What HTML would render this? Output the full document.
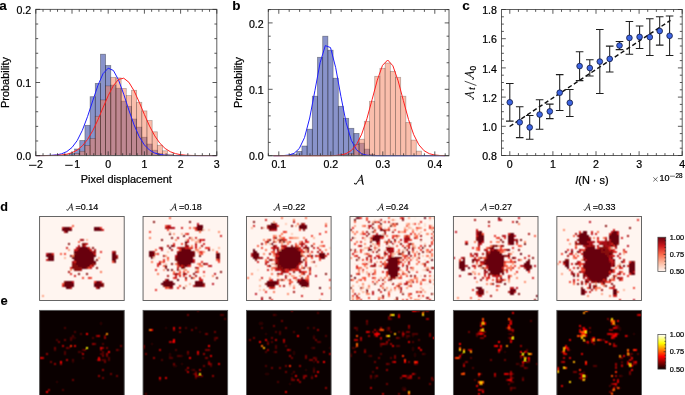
<!DOCTYPE html>
<html><head><meta charset="utf-8"><style>
html,body{margin:0;padding:0;background:#fff;}
svg{display:block;font-family:"Liberation Sans", sans-serif;will-change:transform;}
</style></head><body>
<svg width="685" height="395" viewBox="0 0 685 395">
<rect width="685" height="395" fill="#fff"/>
<g fill="rgba(20,40,150,0.5)" stroke="rgba(0,0,0,0.38)" stroke-width="0.75"><rect x="64.24" y="154.8" width="5.17" height="0.8"/><rect x="69.41" y="153.3" width="5.17" height="2.3"/><rect x="74.59" y="149" width="5.17" height="6.6"/><rect x="79.76" y="140.5" width="5.17" height="15.1"/><rect x="84.93" y="125.3" width="5.17" height="30.3"/><rect x="90.1" y="96.7" width="5.17" height="58.9"/><rect x="95.27" y="83.4" width="5.17" height="72.2"/><rect x="100.44" y="54.2" width="5.17" height="101.4"/><rect x="105.61" y="65.5" width="5.17" height="90.1"/><rect x="110.79" y="85.1" width="5.17" height="70.5"/><rect x="115.96" y="88.2" width="5.17" height="67.4"/><rect x="121.13" y="101.1" width="5.17" height="54.5"/><rect x="126.3" y="106.3" width="5.17" height="49.3"/><rect x="131.47" y="119" width="5.17" height="36.6"/><rect x="136.64" y="127.1" width="5.17" height="28.5"/><rect x="141.81" y="137.2" width="5.17" height="18.4"/><rect x="146.99" y="144" width="5.17" height="11.6"/><rect x="152.16" y="150.2" width="5.17" height="5.4"/><rect x="157.33" y="153.5" width="5.17" height="2.1"/><rect x="162.5" y="155" width="5.17" height="0.6"/></g><g fill="rgba(245,125,90,0.5)" stroke="rgba(0,0,0,0.28)" stroke-width="0.75"><rect x="69.41" y="155" width="5.17" height="0.6"/><rect x="74.59" y="153.6" width="5.17" height="2"/><rect x="79.76" y="151.3" width="5.17" height="4.3"/><rect x="84.93" y="145.5" width="5.17" height="10.1"/><rect x="90.1" y="138.5" width="5.17" height="17.1"/><rect x="95.27" y="116.3" width="5.17" height="39.3"/><rect x="100.44" y="99.9" width="5.17" height="55.7"/><rect x="105.61" y="85.9" width="5.17" height="69.7"/><rect x="110.79" y="77.3" width="5.17" height="78.3"/><rect x="115.96" y="77.9" width="5.17" height="77.7"/><rect x="121.13" y="88.4" width="5.17" height="67.2"/><rect x="126.3" y="95.6" width="5.17" height="60"/><rect x="131.47" y="90.3" width="5.17" height="65.3"/><rect x="136.64" y="102.3" width="5.17" height="53.3"/><rect x="141.81" y="110.9" width="5.17" height="44.7"/><rect x="146.99" y="120.5" width="5.17" height="35.1"/><rect x="152.16" y="131.8" width="5.17" height="23.8"/><rect x="157.33" y="145.2" width="5.17" height="10.4"/><rect x="162.5" y="150.8" width="5.17" height="4.8"/><rect x="167.67" y="154.2" width="5.17" height="1.4"/></g><polyline points="35.8,155.59 40.97,155.57 46.14,155.5 51.31,155.32 56.49,154.86 61.66,153.79 66.83,151.59 72,147.48 77.17,140.61 82.34,130.32 87.51,116.69 92.69,100.96 97.86,85.57 103.03,73.7 108.2,68.18 113.37,70.45 118.54,79.91 123.71,94.19 128.89,110.14 134.06,124.89 139.23,136.66 144.4,144.94 149.57,150.13 154.74,153.04 159.91,154.5 165.09,155.17 170.26,155.45 175.43,155.55 180.6,155.59 185.77,155.6 190.94,155.6 196.11,155.6 201.29,155.6 206.46,155.6 211.63,155.6 216.8,155.6" fill="none" stroke="#1f1fff" stroke-width="1.0"/><polyline points="35.8,155.6 40.97,155.59 46.14,155.56 51.31,155.49 56.49,155.32 61.66,154.95 66.83,154.19 72,152.72 77.17,150.12 82.34,145.89 87.51,139.53 92.69,130.82 97.86,119.94 103.03,107.74 108.2,95.69 113.37,85.65 118.54,79.41 123.71,78.2 128.89,82.26 134.06,90.78 139.23,102.16 144.4,114.51 149.57,126.12 154.74,135.88 159.91,143.29 165.09,148.44 170.26,151.71 175.43,153.63 180.6,154.67 185.77,155.19 190.94,155.43 196.11,155.54 201.29,155.58 206.46,155.59 211.63,155.6 216.8,155.6" fill="none" stroke="#ff1f1f" stroke-width="1.0"/><rect x="35.8" y="9.4" width="181" height="146.2" fill="none" stroke="#5e5e5e" stroke-width="1.0"/><path d="M35.8,155.6v-4.3M35.8,9.4v4.3M43.04,155.6v-2.4M43.04,9.4v2.4M50.28,155.6v-2.4M50.28,9.4v2.4M57.52,155.6v-2.4M57.52,9.4v2.4M64.76,155.6v-2.4M64.76,9.4v2.4M72,155.6v-4.3M72,9.4v4.3M79.24,155.6v-2.4M79.24,9.4v2.4M86.48,155.6v-2.4M86.48,9.4v2.4M93.72,155.6v-2.4M93.72,9.4v2.4M100.96,155.6v-2.4M100.96,9.4v2.4M108.2,155.6v-4.3M108.2,9.4v4.3M115.44,155.6v-2.4M115.44,9.4v2.4M122.68,155.6v-2.4M122.68,9.4v2.4M129.92,155.6v-2.4M129.92,9.4v2.4M137.16,155.6v-2.4M137.16,9.4v2.4M144.4,155.6v-4.3M144.4,9.4v4.3M151.64,155.6v-2.4M151.64,9.4v2.4M158.88,155.6v-2.4M158.88,9.4v2.4M166.12,155.6v-2.4M166.12,9.4v2.4M173.36,155.6v-2.4M173.36,9.4v2.4M180.6,155.6v-4.3M180.6,9.4v4.3M187.84,155.6v-2.4M187.84,9.4v2.4M195.08,155.6v-2.4M195.08,9.4v2.4M202.32,155.6v-2.4M202.32,9.4v2.4M209.56,155.6v-2.4M209.56,9.4v2.4M216.8,155.6v-4.3M216.8,9.4v4.3" stroke="#303030" stroke-width="0.8" fill="none"/><path d="M35.8,155.6h4.3M216.8,155.6h-4.3M35.8,140.98h2.4M216.8,140.98h-2.4M35.8,126.36h2.4M216.8,126.36h-2.4M35.8,111.74h2.4M216.8,111.74h-2.4M35.8,97.12h2.4M216.8,97.12h-2.4M35.8,82.5h4.3M216.8,82.5h-4.3M35.8,67.88h2.4M216.8,67.88h-2.4M35.8,53.26h2.4M216.8,53.26h-2.4M35.8,38.64h2.4M216.8,38.64h-2.4M35.8,24.02h2.4M216.8,24.02h-2.4M35.8,9.4h4.3M216.8,9.4h-4.3" stroke="#303030" stroke-width="0.8" fill="none"/><path d="M29,165.3H36.5" stroke="#000" stroke-width="0.95"/><text x="37" y="168.3" font-size="10.6" text-anchor="start" font-weight="normal" fill="#000" stroke="#000" stroke-width="0.22" >2</text><path d="M65.2,165.3H72.7" stroke="#000" stroke-width="0.95"/><text x="74.25" y="168.3" font-size="10.6" text-anchor="start" font-weight="normal" fill="#000" stroke="#000" stroke-width="0.22" >1</text><text x="108.2" y="168.3" font-size="10.6" text-anchor="middle" font-weight="normal" fill="#000" stroke="#000" stroke-width="0.22" >0</text><text x="144.4" y="168.3" font-size="10.6" text-anchor="middle" font-weight="normal" fill="#000" stroke="#000" stroke-width="0.22" >1</text><text x="180.6" y="168.3" font-size="10.6" text-anchor="middle" font-weight="normal" fill="#000" stroke="#000" stroke-width="0.22" >2</text><text x="216.8" y="168.3" font-size="10.6" text-anchor="middle" font-weight="normal" fill="#000" stroke="#000" stroke-width="0.22" >3</text><text x="31.2" y="160.3" font-size="10.6" text-anchor="end" font-weight="normal" fill="#000" stroke="#000" stroke-width="0.22" >0.0</text><text x="31.2" y="87.2" font-size="10.6" text-anchor="end" font-weight="normal" fill="#000" stroke="#000" stroke-width="0.22" >0.1</text><text x="31.2" y="14.1" font-size="10.6" text-anchor="end" font-weight="normal" fill="#000" stroke="#000" stroke-width="0.22" >0.2</text><text x="126.3" y="183" font-size="10.95" text-anchor="middle" font-weight="normal" fill="#000" stroke="#000" stroke-width="0.22" >Pixel displacement</text><text x="9.3" y="82.5" font-size="10.95" text-anchor="middle" font-weight="normal" fill="#000" stroke="#000" stroke-width="0.22" transform="rotate(-90 9.3 82.5)">Probability</text><text x="-0.8" y="9.8" font-size="13.5" text-anchor="start" font-weight="bold" fill="#000" stroke="#000" stroke-width="0.1" >a</text><g fill="rgba(20,40,150,0.5)" stroke="rgba(0,0,0,0.38)" stroke-width="0.75"><rect x="291.5" y="154.2" width="5.2" height="1.5"/><rect x="296.7" y="151.4" width="5.2" height="4.3"/><rect x="301.9" y="146" width="5.2" height="9.7"/><rect x="307.1" y="129.2" width="5.2" height="26.5"/><rect x="312.3" y="96.2" width="5.2" height="59.5"/><rect x="317.5" y="57.3" width="5.2" height="98.4"/><rect x="322.7" y="36.2" width="5.2" height="119.5"/><rect x="327.9" y="50.2" width="5.2" height="105.5"/><rect x="333.1" y="78.2" width="5.2" height="77.5"/><rect x="338.3" y="106.3" width="5.2" height="49.4"/><rect x="343.5" y="118.3" width="5.2" height="37.4"/><rect x="348.7" y="128.3" width="5.2" height="27.4"/><rect x="353.9" y="133.4" width="5.2" height="22.3"/><rect x="359.1" y="143.2" width="5.2" height="12.5"/><rect x="364.3" y="149.1" width="5.2" height="6.6"/><rect x="369.5" y="154.3" width="5.2" height="1.4"/></g><g fill="rgba(245,125,90,0.5)" stroke="rgba(0,0,0,0.28)" stroke-width="0.75"><rect x="343.5" y="154.6" width="5.2" height="1.1"/><rect x="348.7" y="153.8" width="5.2" height="1.9"/><rect x="353.9" y="144.5" width="5.2" height="11.2"/><rect x="359.1" y="139.2" width="5.2" height="16.5"/><rect x="364.3" y="121.3" width="5.2" height="34.4"/><rect x="369.5" y="101.3" width="5.2" height="54.4"/><rect x="374.7" y="76.3" width="5.2" height="79.4"/><rect x="379.9" y="68.3" width="5.2" height="87.4"/><rect x="385.1" y="63" width="5.2" height="92.7"/><rect x="390.3" y="71.3" width="5.2" height="84.4"/><rect x="395.5" y="77.3" width="5.2" height="78.4"/><rect x="400.7" y="96.2" width="5.2" height="59.5"/><rect x="405.9" y="122.5" width="5.2" height="33.2"/><rect x="411.1" y="140.1" width="5.2" height="15.6"/><rect x="416.3" y="151.1" width="5.2" height="4.6"/></g><polyline points="273.3,155.7 278.5,155.67 283.7,155.55 288.9,155.05 294.1,153.32 299.3,148.49 304.5,137.6 309.7,118.03 314.9,90.71 320.1,62.79 325.3,45.6 330.5,47.57 335.7,67.68 340.9,96.32 346.1,122.5 351.3,140.32 356.5,149.79 361.7,153.82 366.9,155.2 372.1,155.59 377.3,155.68 382.5,155.7 387.7,155.7 392.9,155.7 398.1,155.7 403.3,155.7 408.5,155.7 413.7,155.7 418.9,155.7 424.1,155.7 429.3,155.7 434.5,155.7 439.7,155.7 444.9,155.7" fill="none" stroke="#1f1fff" stroke-width="1.0"/><polyline points="273.3,155.7 278.5,155.7 283.7,155.7 288.9,155.7 294.1,155.7 299.3,155.7 304.5,155.7 309.7,155.7 314.9,155.7 320.1,155.7 325.3,155.68 330.5,155.63 335.7,155.46 340.9,154.95 346.1,153.62 351.3,150.58 356.5,144.55 361.7,134.15 366.9,118.77 372.1,99.59 377.3,80.1 382.5,65.37 387.7,60 392.9,65.79 398.1,80.8 403.3,100.36 408.5,119.45 413.7,134.64 418.9,144.85 424.1,150.74 429.3,153.69 434.5,154.98 439.7,155.47 444.9,155.64" fill="none" stroke="#ff1f1f" stroke-width="1.0"/><rect x="268.3" y="9.5" width="180.7" height="146.2" fill="none" stroke="#5e5e5e" stroke-width="1.0"/><path d="M268.4,155.7v-2.4M268.4,9.5v2.4M278.8,155.7v-4.3M278.8,9.5v4.3M289.2,155.7v-2.4M289.2,9.5v2.4M299.6,155.7v-2.4M299.6,9.5v2.4M310,155.7v-2.4M310,9.5v2.4M320.4,155.7v-2.4M320.4,9.5v2.4M330.8,155.7v-4.3M330.8,9.5v4.3M341.2,155.7v-2.4M341.2,9.5v2.4M351.6,155.7v-2.4M351.6,9.5v2.4M362,155.7v-2.4M362,9.5v2.4M372.4,155.7v-2.4M372.4,9.5v2.4M382.8,155.7v-4.3M382.8,9.5v4.3M393.2,155.7v-2.4M393.2,9.5v2.4M403.6,155.7v-2.4M403.6,9.5v2.4M414,155.7v-2.4M414,9.5v2.4M424.4,155.7v-2.4M424.4,9.5v2.4M434.8,155.7v-4.3M434.8,9.5v4.3M445.2,155.7v-2.4M445.2,9.5v2.4" stroke="#303030" stroke-width="0.8" fill="none"/><path d="M268.3,155.7h4.3M449,155.7h-4.3M268.3,142.42h2.4M449,142.42h-2.4M268.3,129.14h2.4M449,129.14h-2.4M268.3,115.86h2.4M449,115.86h-2.4M268.3,102.58h2.4M449,102.58h-2.4M268.3,89.3h4.3M449,89.3h-4.3M268.3,76.02h2.4M449,76.02h-2.4M268.3,62.74h2.4M449,62.74h-2.4M268.3,49.46h2.4M449,49.46h-2.4M268.3,36.18h2.4M449,36.18h-2.4M268.3,22.9h4.3M449,22.9h-4.3M268.3,9.62h2.4M449,9.62h-2.4" stroke="#303030" stroke-width="0.8" fill="none"/><text x="278.8" y="168.3" font-size="10.6" text-anchor="middle" font-weight="normal" fill="#000" stroke="#000" stroke-width="0.22" >0.1</text><text x="330.8" y="168.3" font-size="10.6" text-anchor="middle" font-weight="normal" fill="#000" stroke="#000" stroke-width="0.22" >0.2</text><text x="382.8" y="168.3" font-size="10.6" text-anchor="middle" font-weight="normal" fill="#000" stroke="#000" stroke-width="0.22" >0.3</text><text x="434.8" y="168.3" font-size="10.6" text-anchor="middle" font-weight="normal" fill="#000" stroke="#000" stroke-width="0.22" >0.4</text><text x="263.7" y="160.4" font-size="10.6" text-anchor="end" font-weight="normal" fill="#000" stroke="#000" stroke-width="0.22" >0.0</text><text x="263.7" y="94" font-size="10.6" text-anchor="end" font-weight="normal" fill="#000" stroke="#000" stroke-width="0.22" >0.1</text><text x="263.7" y="27.6" font-size="10.6" text-anchor="end" font-weight="normal" fill="#000" stroke="#000" stroke-width="0.22" >0.2</text><g transform="translate(354.2,184.6) scale(1.0,1.0)" fill="none" stroke="#111" stroke-linecap="round"><path d="M0.3,-1.2 Q1.1,-0.1 2.3,-1.0" stroke-width="1.1"/><path d="M2.3,-1.0 L7.4,-9.1" stroke-width="0.85"/><path d="M7.4,-9.1 L8.5,-1.2 Q8.7,-0.4 9.1,-0.5" stroke-width="1.35"/><path d="M3.9,-3.4 Q5.6,-4.9 7.9,-4.3" stroke-width="0.7"/></g><text x="241.5" y="82.5" font-size="10.95" text-anchor="middle" font-weight="normal" fill="#000" stroke="#000" stroke-width="0.22" transform="rotate(-90 241.5 82.5)">Probability</text><text x="232.3" y="9.8" font-size="13.5" text-anchor="start" font-weight="bold" fill="#000" stroke="#000" stroke-width="0.1" >b</text><line x1="509.6" y1="126.5" x2="670.5" y2="20.3" stroke="#111" stroke-width="1.45" stroke-dasharray="4.4,2.6"/><path d="M509.8,83.4V121.1M506,83.4h7.6M506,121.1h7.6M519.7,106.8V137.6M515.9,106.8h7.6M515.9,137.6h7.6M529.7,115.4V139.2M525.9,115.4h7.6M525.9,139.2h7.6M539.6,99.8V129.2M535.8,99.8h7.6M535.8,129.2h7.6M549.8,104.1V118.6M546,104.1h7.6M546,118.6h7.6M559.7,74.6V110.5M555.9,74.6h7.6M555.9,110.5h7.6M569.8,89.5V116.5M566,89.5h7.6M566,116.5h7.6M579.6,51.7V80.6M575.8,51.7h7.6M575.8,80.6h7.6M589.8,59.7V76M586,59.7h7.6M586,76h7.6M599.8,29.4V93.5M596,29.4h7.6M596,93.5h7.6M609.7,46.1V72M605.9,46.1h7.6M605.9,72h7.6M619.5,41.5V49.6M615.7,41.5h7.6M615.7,49.6h7.6M629.4,21.5V54.2M625.6,21.5h7.6M625.6,54.2h7.6M639.6,25.9V48.5M635.8,25.9h7.6M635.8,48.5h7.6M649.8,18.7V55.4M646,18.7h7.6M646,55.4h7.6M659.7,16.8V45.1M655.9,16.8h7.6M655.9,45.1h7.6M669.6,15.9V55.4M665.8,15.9h7.6M665.8,55.4h7.6" stroke="#1e1e1e" stroke-width="1.05" fill="none"/><circle cx="509.8" cy="102.3" r="2.85" fill="#3c64e2" stroke="#141a40" stroke-width="0.8"/><circle cx="519.7" cy="122.3" r="2.85" fill="#3c64e2" stroke="#141a40" stroke-width="0.8"/><circle cx="529.7" cy="127.4" r="2.85" fill="#3c64e2" stroke="#141a40" stroke-width="0.8"/><circle cx="539.6" cy="114.5" r="2.85" fill="#3c64e2" stroke="#141a40" stroke-width="0.8"/><circle cx="549.8" cy="111.4" r="2.85" fill="#3c64e2" stroke="#141a40" stroke-width="0.8"/><circle cx="559.7" cy="92.7" r="2.85" fill="#3c64e2" stroke="#141a40" stroke-width="0.8"/><circle cx="569.8" cy="102.8" r="2.85" fill="#3c64e2" stroke="#141a40" stroke-width="0.8"/><circle cx="579.6" cy="66.1" r="2.85" fill="#3c64e2" stroke="#141a40" stroke-width="0.8"/><circle cx="589.8" cy="68" r="2.85" fill="#3c64e2" stroke="#141a40" stroke-width="0.8"/><circle cx="599.8" cy="61.6" r="2.85" fill="#3c64e2" stroke="#141a40" stroke-width="0.8"/><circle cx="609.7" cy="58.9" r="2.85" fill="#3c64e2" stroke="#141a40" stroke-width="0.8"/><circle cx="619.5" cy="45.5" r="2.85" fill="#3c64e2" stroke="#141a40" stroke-width="0.8"/><circle cx="629.4" cy="37.9" r="2.85" fill="#3c64e2" stroke="#141a40" stroke-width="0.8"/><circle cx="639.6" cy="36.9" r="2.85" fill="#3c64e2" stroke="#141a40" stroke-width="0.8"/><circle cx="649.8" cy="37.1" r="2.85" fill="#3c64e2" stroke="#141a40" stroke-width="0.8"/><circle cx="659.7" cy="31" r="2.85" fill="#3c64e2" stroke="#141a40" stroke-width="0.8"/><circle cx="669.6" cy="35.8" r="2.85" fill="#3c64e2" stroke="#141a40" stroke-width="0.8"/><rect x="501.5" y="9.5" width="180.7" height="146" fill="none" stroke="#5e5e5e" stroke-width="1.0"/><path d="M509.8,155.5v-4.3M509.8,9.5v4.3M518.42,155.5v-2.4M518.42,9.5v2.4M527.04,155.5v-2.4M527.04,9.5v2.4M535.66,155.5v-2.4M535.66,9.5v2.4M544.28,155.5v-2.4M544.28,9.5v2.4M552.9,155.5v-4.3M552.9,9.5v4.3M561.52,155.5v-2.4M561.52,9.5v2.4M570.14,155.5v-2.4M570.14,9.5v2.4M578.76,155.5v-2.4M578.76,9.5v2.4M587.38,155.5v-2.4M587.38,9.5v2.4M596,155.5v-4.3M596,9.5v4.3M604.62,155.5v-2.4M604.62,9.5v2.4M613.24,155.5v-2.4M613.24,9.5v2.4M621.86,155.5v-2.4M621.86,9.5v2.4M630.48,155.5v-2.4M630.48,9.5v2.4M639.1,155.5v-4.3M639.1,9.5v4.3M647.72,155.5v-2.4M647.72,9.5v2.4M656.34,155.5v-2.4M656.34,9.5v2.4M664.96,155.5v-2.4M664.96,9.5v2.4M673.58,155.5v-2.4M673.58,9.5v2.4M682.2,155.5v-4.3M682.2,9.5v4.3" stroke="#303030" stroke-width="0.8" fill="none"/><path d="M501.5,155.5h4.3M682.2,155.5h-4.3M501.5,148.2h2.4M682.2,148.2h-2.4M501.5,140.9h2.4M682.2,140.9h-2.4M501.5,133.6h2.4M682.2,133.6h-2.4M501.5,126.3h4.3M682.2,126.3h-4.3M501.5,119h2.4M682.2,119h-2.4M501.5,111.7h2.4M682.2,111.7h-2.4M501.5,104.4h2.4M682.2,104.4h-2.4M501.5,97.1h4.3M682.2,97.1h-4.3M501.5,89.8h2.4M682.2,89.8h-2.4M501.5,82.5h2.4M682.2,82.5h-2.4M501.5,75.2h2.4M682.2,75.2h-2.4M501.5,67.9h4.3M682.2,67.9h-4.3M501.5,60.6h2.4M682.2,60.6h-2.4M501.5,53.3h2.4M682.2,53.3h-2.4M501.5,46h2.4M682.2,46h-2.4M501.5,38.7h4.3M682.2,38.7h-4.3M501.5,31.4h2.4M682.2,31.4h-2.4M501.5,24.1h2.4M682.2,24.1h-2.4M501.5,16.8h2.4M682.2,16.8h-2.4M501.5,9.5h4.3M682.2,9.5h-4.3" stroke="#303030" stroke-width="0.8" fill="none"/><text x="509.8" y="168.3" font-size="10.6" text-anchor="middle" font-weight="normal" fill="#000" stroke="#000" stroke-width="0.22" >0</text><text x="552.9" y="168.3" font-size="10.6" text-anchor="middle" font-weight="normal" fill="#000" stroke="#000" stroke-width="0.22" >1</text><text x="596" y="168.3" font-size="10.6" text-anchor="middle" font-weight="normal" fill="#000" stroke="#000" stroke-width="0.22" >2</text><text x="639.1" y="168.3" font-size="10.6" text-anchor="middle" font-weight="normal" fill="#000" stroke="#000" stroke-width="0.22" >3</text><text x="682.2" y="168.3" font-size="10.6" text-anchor="middle" font-weight="normal" fill="#000" stroke="#000" stroke-width="0.22" >4</text><text x="496.9" y="160.2" font-size="10.6" text-anchor="end" font-weight="normal" fill="#000" stroke="#000" stroke-width="0.22" >0.8</text><text x="496.9" y="131" font-size="10.6" text-anchor="end" font-weight="normal" fill="#000" stroke="#000" stroke-width="0.22" >1.0</text><text x="496.9" y="101.8" font-size="10.6" text-anchor="end" font-weight="normal" fill="#000" stroke="#000" stroke-width="0.22" >1.2</text><text x="496.9" y="72.6" font-size="10.6" text-anchor="end" font-weight="normal" fill="#000" stroke="#000" stroke-width="0.22" >1.4</text><text x="496.9" y="43.4" font-size="10.6" text-anchor="end" font-weight="normal" fill="#000" stroke="#000" stroke-width="0.22" >1.6</text><text x="496.9" y="14.2" font-size="10.6" text-anchor="end" font-weight="normal" fill="#000" stroke="#000" stroke-width="0.22" >1.8</text><text x="591.9" y="183.9" font-size="10.95" text-anchor="middle" font-weight="normal" fill="#000" stroke="#000" stroke-width="0.22" ><tspan font-style="italic">I</tspan>(N · s)</text><path d="M653.3,177.3L657.6,181.4M653.3,181.4L657.6,177.3M670,176.2H675" stroke="#333" stroke-width="0.7" fill="none"/><text x="659.6" y="181.4" font-size="9.0" text-anchor="start" font-weight="normal" fill="#000" stroke="#000" stroke-width="0.22" >10</text><text x="675.4" y="177.7" font-size="6.3" text-anchor="start" font-weight="normal" fill="#000" stroke="#000" stroke-width="0.22" >28</text><text x="462.3" y="9.8" font-size="13.5" text-anchor="start" font-weight="bold" fill="#000" stroke="#000" stroke-width="0.1" >c</text><g transform="translate(474,100) rotate(-90)"><g transform="translate(0.2,0) scale(0.82,0.95)" fill="none" stroke="#111" stroke-linecap="round"><path d="M0.3,-1.2 Q1.1,-0.1 2.3,-1.0" stroke-width="1.1"/><path d="M2.3,-1.0 L7.4,-9.1" stroke-width="0.85"/><path d="M7.4,-9.1 L8.5,-1.2 Q8.7,-0.4 9.1,-0.5" stroke-width="1.35"/><path d="M3.9,-3.4 Q5.6,-4.9 7.9,-4.3" stroke-width="0.7"/></g><text x="10.2" y="1.3" font-size="8.2" text-anchor="start" font-weight="normal" fill="#000" stroke="#000" stroke-width="0.22" font-style="italic">t</text><path d="M14.5,2.4L18.8,-9.3" stroke="#111" stroke-width="0.75"/><g transform="translate(20.3,0) scale(0.86,0.95)" fill="none" stroke="#111" stroke-linecap="round"><path d="M0.3,-1.2 Q1.1,-0.1 2.3,-1.0" stroke-width="1.1"/><path d="M2.3,-1.0 L7.4,-9.1" stroke-width="0.85"/><path d="M7.4,-9.1 L8.5,-1.2 Q8.7,-0.4 9.1,-0.5" stroke-width="1.35"/><path d="M3.9,-3.4 Q5.6,-4.9 7.9,-4.3" stroke-width="0.7"/></g><text x="29.6" y="1.6" font-size="8.4" text-anchor="start" font-weight="normal" fill="#000" stroke="#000" stroke-width="0.22" >0</text></g><defs><filter id="bl" x="-5%" y="-5%" width="110%" height="110%"><feConvolveMatrix order="3" kernelMatrix="1 2 1 2 4 2 1 2 1" divisor="16" edgeMode="duplicate"/></filter><clipPath id="cd0"><rect x="39.60" y="216.5" width="84.6" height="84"/></clipPath><clipPath id="ce0"><rect x="39.60" y="310.4" width="84.6" height="90"/></clipPath><clipPath id="cd1"><rect x="143.05" y="216.5" width="84.6" height="84"/></clipPath><clipPath id="ce1"><rect x="143.05" y="310.4" width="84.6" height="90"/></clipPath><clipPath id="cd2"><rect x="246.50" y="216.5" width="84.6" height="84"/></clipPath><clipPath id="ce2"><rect x="246.50" y="310.4" width="84.6" height="90"/></clipPath><clipPath id="cd3"><rect x="349.95" y="216.5" width="84.6" height="84"/></clipPath><clipPath id="ce3"><rect x="349.95" y="310.4" width="84.6" height="90"/></clipPath><clipPath id="cd4"><rect x="453.40" y="216.5" width="84.6" height="84"/></clipPath><clipPath id="ce4"><rect x="453.40" y="310.4" width="84.6" height="90"/></clipPath><clipPath id="cd5"><rect x="556.85" y="216.5" width="84.6" height="84"/></clipPath><clipPath id="ce5"><rect x="556.85" y="310.4" width="84.6" height="90"/></clipPath></defs><rect x="39.60" y="216.5" width="84.6" height="84" fill="rgb(255,245,240)"/><g clip-path="url(#cd0)"><g filter="url(#bl)" shape-rendering="crispEdges"><path fill="rgb(252,182,155)" d="M85.93 238.66h2.01v2.01h-2.01zM63.77 256.79h2.01v2.01h-2.01z"/><path fill="rgb(252,160,130)" d="M67.80 248.73h2.01v2.01h-2.01zM98.01 256.79h2.01v2.01h-2.01zM41.61 295.06h2.01v2.01h-2.01z"/><path fill="rgb(252,138,106)" d="M69.81 268.87h2.01v2.01h-2.01z"/><path fill="rgb(251,117,85)" d="M71.83 254.77h2.01v2.01h-2.01zM100.03 270.89h2.01v2.01h-2.01z"/><path fill="rgb(248,93,66)" d="M71.83 224.56h2.01v2.01h-2.01zM77.87 240.67h2.01v2.01h-2.01zM59.74 252.76h2.01v2.01h-2.01z"/><path fill="rgb(241,68,50)" d="M63.77 252.76h2.01v2.01h-2.01zM112.11 260.81h2.01v2.01h-2.01zM87.94 266.86h2.01v2.01h-2.01zM81.90 276.93h2.01v2.01h-2.01zM89.96 276.93h2.01v2.01h-2.01zM61.76 282.97h2.01v2.01h-2.01z"/><path fill="rgb(227,47,39)" d="M100.03 226.57h2.01v2.01h-2.01zM100.03 250.74h2.01v2.01h-2.01zM89.96 264.84h2.01v2.01h-2.01zM69.81 272.90h2.01v2.01h-2.01zM87.94 276.93h2.01v2.01h-2.01zM93.99 280.96h2.01v2.01h-2.01z"/><path fill="rgb(208,29,31)" d="M69.81 226.57h2.01v2.01h-2.01zM102.04 228.59h2.01v2.01h-2.01zM85.93 242.69h2.01v2.01h-2.01zM65.79 246.71h2.01v2.01h-2.01zM87.94 246.71h2.01v2.01h-2.01zM73.84 248.73h2.01v2.01h-2.01zM89.96 248.73h2.01v2.01h-2.01zM51.69 252.76h2.01v2.01h-2.01zM93.99 252.76h2.01v2.01h-2.01zM45.64 258.80h2.01v2.01h-2.01zM73.84 260.81h2.01v2.01h-2.01zM69.81 266.86h2.01v2.01h-2.01zM73.84 274.91h2.01v2.01h-2.01zM61.76 284.99h2.01v2.01h-2.01z"/><path fill="rgb(188,20,26)" d="M77.87 244.70h2.01v2.01h-2.01zM83.91 244.70h2.01v2.01h-2.01zM75.86 246.71h2.01v2.01h-2.01zM75.86 248.73h2.01v2.01h-2.01zM112.11 250.74h2.01v2.01h-2.01zM45.64 252.76h2.01v2.01h-2.01zM89.96 266.86h2.01v2.01h-2.01zM71.83 280.96h2.01v2.01h-2.01zM100.03 280.96h2.01v2.01h-2.01z"/><path fill="rgb(168,16,22)" d="M61.76 226.57h2.01v2.01h-2.01zM63.77 230.60h2.01v2.01h-2.01zM79.89 238.66h4.03v2.01h-4.03zM93.99 248.73h2.01v2.01h-2.01zM91.97 250.74h2.01v2.01h-2.01zM116.14 254.77h2.01v2.01h-2.01zM71.83 260.81h2.01v2.01h-2.01zM91.97 264.84h2.01v2.01h-2.01zM79.89 268.87h2.01v2.01h-2.01zM67.80 270.89h2.01v2.01h-2.01zM69.81 287.00h2.01v2.01h-2.01zM96.00 287.00h2.01v2.01h-2.01z"/><path fill="rgb(136,8,17)" d="M67.80 242.69h2.01v2.01h-2.01zM81.90 242.69h4.03v2.01h-4.03zM81.90 244.70h2.01v2.01h-2.01zM77.87 246.71h2.01v2.01h-2.01zM91.97 246.71h2.01v2.01h-2.01zM93.99 250.74h2.01v2.01h-2.01zM114.13 250.74h2.01v2.01h-2.01zM73.84 252.76h2.01v2.01h-2.01zM69.81 254.77h2.01v2.01h-2.01zM116.14 256.79h2.01v2.01h-2.01zM96.00 258.80h2.01v2.01h-2.01zM71.83 262.83h4.03v2.01h-4.03zM91.97 262.83h4.03v2.01h-4.03zM71.83 264.84h6.04v2.01h-6.04zM71.83 266.86h10.07v2.01h-10.07zM85.93 266.86h2.01v2.01h-2.01zM96.00 266.86h2.01v2.01h-2.01zM73.84 268.87h6.04v2.01h-6.04zM77.87 272.90h2.01v2.01h-2.01zM85.93 272.90h2.01v2.01h-2.01zM63.77 280.96h2.01v2.01h-2.01zM102.04 282.97h2.01v2.01h-2.01zM102.04 284.99h2.01v2.01h-2.01z"/><path fill="rgb(103,0,13)" d="M63.77 226.57h6.04v2.01h-6.04zM93.99 226.57h6.04v2.01h-6.04zM61.76 228.59h10.07v2.01h-10.07zM93.99 228.59h8.06v2.01h-8.06zM65.79 230.60h2.01v2.01h-2.01zM79.89 246.71h8.06v2.01h-8.06zM77.87 248.73h12.09v2.01h-12.09zM73.84 250.74h18.13v2.01h-18.13zM47.66 252.76h4.03v2.01h-4.03zM75.86 252.76h18.13v2.01h-18.13zM112.11 252.76h4.03v2.01h-4.03zM45.64 254.77h8.06v2.01h-8.06zM73.84 254.77h22.16v2.01h-22.16zM112.11 254.77h4.03v2.01h-4.03zM47.66 256.79h6.04v2.01h-6.04zM71.83 256.79h22.16v2.01h-22.16zM112.11 256.79h4.03v2.01h-4.03zM47.66 258.80h6.04v2.01h-6.04zM73.84 258.80h20.14v2.01h-20.14zM112.11 258.80h4.03v2.01h-4.03zM75.86 260.81h20.14v2.01h-20.14zM114.13 260.81h2.01v2.01h-2.01zM75.86 262.83h16.11v2.01h-16.11zM77.87 264.84h12.09v2.01h-12.09zM81.90 266.86h4.03v2.01h-4.03zM65.79 280.96h6.04v2.01h-6.04zM96.00 280.96h4.03v2.01h-4.03zM63.77 282.97h10.07v2.01h-10.07zM93.99 282.97h8.06v2.01h-8.06zM63.77 284.99h10.07v2.01h-10.07zM93.99 284.99h8.06v2.01h-8.06zM65.79 287.00h4.03v2.01h-4.03zM98.01 287.00h2.01v2.01h-2.01z"/></g></g><rect x="39.60" y="216.5" width="84.6" height="84" fill="none" stroke="#555" stroke-width="0.9"/><rect x="39.60" y="310.4" width="84.6" height="90" fill="rgb(10,0,0)"/><g clip-path="url(#ce0)"><g filter="url(#bl)" shape-rendering="crispEdges"><path fill="rgb(46,0,0)" d="M100.03 322.49h2.01v2.01h-2.01zM71.83 336.59h4.03v2.01h-4.03zM118.16 348.67h2.01v2.01h-2.01zM79.89 350.69h2.01v2.01h-2.01zM96.00 358.74h2.01v2.01h-2.01zM100.03 358.74h2.01v2.01h-2.01zM71.83 360.76h2.01v2.01h-2.01zM55.71 380.90h2.01v2.01h-2.01z"/><path fill="rgb(81,0,0)" d="M63.77 326.51h2.01v2.01h-2.01zM73.84 330.54h2.01v2.01h-2.01zM79.89 332.56h2.01v2.01h-2.01zM71.83 334.57h2.01v2.01h-2.01zM69.81 336.59h2.01v2.01h-2.01zM91.97 336.59h2.01v2.01h-2.01zM55.71 338.60h2.01v2.01h-2.01zM69.81 338.60h2.01v2.01h-2.01zM102.04 342.63h2.01v2.01h-2.01zM67.80 346.66h2.01v2.01h-2.01zM53.70 348.67h2.01v2.01h-2.01zM81.90 348.67h2.01v2.01h-2.01zM63.77 350.69h2.01v2.01h-2.01zM77.87 350.69h2.01v2.01h-2.01zM102.04 350.69h2.01v2.01h-2.01zM63.77 352.70h2.01v2.01h-2.01zM100.03 352.70h4.03v2.01h-4.03zM81.90 356.73h2.01v2.01h-2.01zM108.09 356.73h2.01v2.01h-2.01zM71.83 358.74h2.01v2.01h-2.01zM102.04 358.74h4.03v2.01h-4.03zM108.09 358.74h2.01v2.01h-2.01zM61.76 388.96h2.01v2.01h-2.01z"/><path fill="rgb(116,0,0)" d="M104.06 334.57h2.01v2.01h-2.01zM63.77 338.60h2.01v2.01h-2.01zM57.73 340.61h2.01v2.01h-2.01zM93.99 342.63h2.01v2.01h-2.01zM120.17 344.64h2.01v2.01h-2.01zM53.70 346.66h2.01v2.01h-2.01zM65.79 346.66h2.01v2.01h-2.01zM106.07 346.66h2.01v2.01h-2.01zM83.91 348.67h2.01v2.01h-2.01zM100.03 348.67h2.01v2.01h-2.01zM116.14 348.67h2.01v2.01h-2.01zM102.04 354.71h2.01v2.01h-2.01zM106.07 354.71h2.01v2.01h-2.01zM49.67 360.76h2.01v2.01h-2.01zM104.06 360.76h2.01v2.01h-2.01zM110.10 372.84h2.01v2.01h-2.01zM116.14 374.86h2.01v2.01h-2.01zM102.04 376.87h2.01v2.01h-2.01zM71.83 378.89h2.01v2.01h-2.01z"/><path fill="rgb(152,0,0)" d="M96.00 334.57h2.01v2.01h-2.01zM104.06 336.59h2.01v2.01h-2.01zM91.97 342.63h2.01v2.01h-2.01zM102.04 346.66h2.01v2.01h-2.01zM45.64 352.70h2.01v2.01h-2.01zM106.07 352.70h2.01v2.01h-2.01zM53.70 362.77h2.01v2.01h-2.01zM59.74 362.77h2.01v2.01h-2.01zM102.04 368.81h2.01v2.01h-2.01zM98.01 374.86h2.01v2.01h-2.01zM47.66 388.96h2.01v2.01h-2.01z"/><path fill="rgb(187,0,0)" d="M98.01 334.57h2.01v2.01h-2.01zM61.76 344.64h2.01v2.01h-2.01zM81.90 352.70h2.01v2.01h-2.01zM41.61 356.73h2.01v2.01h-2.01zM65.79 358.74h2.01v2.01h-2.01z"/><path fill="rgb(222,0,0)" d="M73.84 344.64h2.01v2.01h-2.01zM100.03 346.66h2.01v2.01h-2.01zM39.60 356.73h2.01v2.01h-2.01zM98.01 356.73h2.01v2.01h-2.01zM98.01 358.74h2.01v2.01h-2.01z"/><path fill="rgb(255,2,0)" d="M85.93 332.56h2.01v2.01h-2.01zM108.09 350.69h2.01v2.01h-2.01zM59.74 360.76h2.01v2.01h-2.01zM45.64 390.97h2.01v2.01h-2.01z"/><path fill="rgb(255,38,0)" d="M69.81 344.64h2.01v2.01h-2.01z"/><path fill="rgb(255,143,0)" d="M106.07 332.56h2.01v2.01h-2.01z"/><path fill="rgb(255,249,0)" d="M85.93 346.66h2.01v2.01h-2.01z"/></g></g><rect x="39.60" y="310.4" width="84.6" height="90" fill="none" stroke="#555" stroke-width="0.9"/><rect x="143.05" y="216.5" width="84.6" height="84" fill="rgb(255,245,240)"/><g clip-path="url(#cd1)"><g filter="url(#bl)" shape-rendering="crispEdges"><path fill="rgb(253,202,181)" d="M203.48 228.59h2.01v2.01h-2.01zM207.51 228.59h2.01v2.01h-2.01zM169.24 230.60h2.01v2.01h-2.01zM185.35 238.66h2.01v2.01h-2.01zM193.41 238.66h2.01v2.01h-2.01zM167.22 250.74h2.01v2.01h-2.01zM153.12 256.79h2.01v2.01h-2.01zM165.21 262.83h2.01v2.01h-2.01zM195.42 268.87h2.01v2.01h-2.01z"/><path fill="rgb(252,182,155)" d="M181.32 232.61h2.01v2.01h-2.01zM191.39 236.64h2.01v2.01h-2.01zM197.44 238.66h2.01v2.01h-2.01zM197.44 240.67h2.01v2.01h-2.01zM217.58 246.71h2.01v2.01h-2.01zM211.54 248.73h2.01v2.01h-2.01zM197.44 250.74h2.01v2.01h-2.01zM179.31 268.87h2.01v2.01h-2.01zM183.34 268.87h2.01v2.01h-2.01zM203.48 274.91h2.01v2.01h-2.01zM189.38 282.97h2.01v2.01h-2.01zM185.35 284.99h2.01v2.01h-2.01z"/><path fill="rgb(252,160,130)" d="M173.26 232.61h2.01v2.01h-2.01zM191.39 238.66h2.01v2.01h-2.01zM195.42 240.67h2.01v2.01h-2.01zM203.48 250.74h2.01v2.01h-2.01zM165.21 254.77h2.01v2.01h-2.01zM163.19 268.87h2.01v2.01h-2.01z"/><path fill="rgb(252,138,106)" d="M217.58 230.60h2.01v2.01h-2.01zM175.28 238.66h2.01v2.01h-2.01zM191.39 244.70h2.01v2.01h-2.01zM199.45 246.71h2.01v2.01h-2.01zM195.42 248.73h4.03v2.01h-4.03zM155.14 252.76h2.01v2.01h-2.01zM167.22 258.80h2.01v2.01h-2.01zM161.18 260.81h2.01v2.01h-2.01zM197.44 262.83h2.01v2.01h-2.01zM199.45 264.84h2.01v2.01h-2.01zM185.35 268.87h2.01v2.01h-2.01zM197.44 268.87h2.01v2.01h-2.01zM211.54 274.91h2.01v2.01h-2.01z"/><path fill="rgb(251,117,85)" d="M193.41 226.57h2.01v2.01h-2.01zM199.45 230.60h2.01v2.01h-2.01zM149.09 236.64h2.01v2.01h-2.01zM199.45 252.76h2.01v2.01h-2.01zM151.11 260.81h2.01v2.01h-2.01zM175.28 262.83h2.01v2.01h-2.01zM201.46 264.84h2.01v2.01h-2.01zM173.26 270.89h2.01v2.01h-2.01zM187.36 270.89h2.01v2.01h-2.01zM157.15 272.90h2.01v2.01h-2.01zM193.41 276.93h2.01v2.01h-2.01z"/><path fill="rgb(248,93,66)" d="M169.24 216.50h2.01v2.01h-2.01zM189.38 226.57h2.01v2.01h-2.01zM155.14 248.73h2.01v2.01h-2.01zM215.56 258.80h2.01v2.01h-2.01zM163.19 264.84h2.01v2.01h-2.01zM179.31 272.90h2.01v2.01h-2.01zM167.22 287.00h2.01v2.01h-2.01z"/><path fill="rgb(241,68,50)" d="M165.21 224.56h2.01v2.01h-2.01zM167.22 228.59h2.01v2.01h-2.01zM195.42 228.59h2.01v2.01h-2.01zM149.09 230.60h2.01v2.01h-2.01zM185.35 232.61h2.01v2.01h-2.01zM181.32 242.69h2.01v2.01h-2.01zM189.38 246.71h2.01v2.01h-2.01zM179.31 248.73h2.01v2.01h-2.01zM215.56 250.74h2.01v2.01h-2.01zM201.46 252.76h2.01v2.01h-2.01zM167.22 256.79h2.01v2.01h-2.01zM217.58 260.81h2.01v2.01h-2.01zM199.45 262.83h2.01v2.01h-2.01zM177.29 264.84h2.01v2.01h-2.01zM179.31 270.89h2.01v2.01h-2.01zM183.34 270.89h2.01v2.01h-2.01zM197.44 270.89h2.01v2.01h-2.01zM185.35 278.94h2.01v2.01h-2.01zM179.31 284.99h2.01v2.01h-2.01zM165.21 287.00h2.01v2.01h-2.01z"/><path fill="rgb(227,47,39)" d="M187.36 238.66h2.01v2.01h-2.01zM201.46 238.66h2.01v2.01h-2.01zM173.26 242.69h2.01v2.01h-2.01zM177.29 246.71h2.01v2.01h-2.01zM205.49 246.71h4.03v2.01h-4.03zM199.45 250.74h4.03v2.01h-4.03zM157.15 252.76h2.01v2.01h-2.01zM163.19 258.80h2.01v2.01h-2.01zM163.19 260.81h2.01v2.01h-2.01zM201.46 260.81h2.01v2.01h-2.01zM157.15 262.83h2.01v2.01h-2.01zM189.38 264.84h2.01v2.01h-2.01zM155.14 268.87h2.01v2.01h-2.01zM203.48 270.89h2.01v2.01h-2.01zM173.26 272.90h2.01v2.01h-2.01zM183.34 274.91h2.01v2.01h-2.01zM173.26 276.93h2.01v2.01h-2.01zM177.29 287.00h2.01v2.01h-2.01zM155.14 289.01h2.01v2.01h-2.01z"/><path fill="rgb(208,29,31)" d="M169.24 224.56h2.01v2.01h-2.01zM181.32 226.57h2.01v2.01h-2.01zM187.36 232.61h2.01v2.01h-2.01zM219.59 234.63h2.01v2.01h-2.01zM195.42 236.64h2.01v2.01h-2.01zM199.45 240.67h2.01v2.01h-2.01zM203.48 242.69h2.01v2.01h-2.01zM195.42 244.70h2.01v2.01h-2.01zM185.35 246.71h2.01v2.01h-2.01zM191.39 246.71h2.01v2.01h-2.01zM195.42 246.71h2.01v2.01h-2.01zM217.58 258.80h2.01v2.01h-2.01zM159.16 260.81h2.01v2.01h-2.01zM157.15 264.84h2.01v2.01h-2.01zM181.32 264.84h2.01v2.01h-2.01zM207.51 264.84h2.01v2.01h-2.01zM197.44 266.86h2.01v2.01h-2.01zM177.29 272.90h2.01v2.01h-2.01zM179.31 274.91h2.01v2.01h-2.01zM189.38 274.91h2.01v2.01h-2.01zM175.28 276.93h2.01v2.01h-2.01zM199.45 276.93h2.01v2.01h-2.01zM199.45 278.94h4.03v2.01h-4.03z"/><path fill="rgb(188,20,26)" d="M197.44 222.54h2.01v2.01h-2.01zM173.26 226.57h2.01v2.01h-2.01zM195.42 226.57h2.01v2.01h-2.01zM177.29 236.64h2.01v2.01h-2.01zM189.38 236.64h2.01v2.01h-2.01zM203.48 238.66h2.01v2.01h-2.01zM187.36 240.67h2.01v2.01h-2.01zM195.42 242.69h2.01v2.01h-2.01zM159.16 246.71h2.01v2.01h-2.01zM179.31 246.71h2.01v2.01h-2.01zM187.36 246.71h2.01v2.01h-2.01zM161.18 248.73h2.01v2.01h-2.01zM153.12 254.77h2.01v2.01h-2.01zM175.28 254.77h2.01v2.01h-2.01zM193.41 258.80h2.01v2.01h-2.01zM193.41 260.81h2.01v2.01h-2.01zM205.49 262.83h2.01v2.01h-2.01zM187.36 264.84h2.01v2.01h-2.01zM209.52 264.84h2.01v2.01h-2.01zM177.29 266.86h2.01v2.01h-2.01zM185.35 272.90h2.01v2.01h-2.01zM213.55 272.90h2.01v2.01h-2.01zM175.28 274.91h2.01v2.01h-2.01zM211.54 282.97h2.01v2.01h-2.01z"/><path fill="rgb(168,16,22)" d="M167.22 224.56h2.01v2.01h-2.01zM165.21 226.57h8.06v2.01h-8.06zM199.45 238.66h2.01v2.01h-2.01zM167.22 244.70h2.01v2.01h-2.01zM173.26 244.70h2.01v2.01h-2.01zM187.36 244.70h2.01v2.01h-2.01zM201.46 244.70h2.01v2.01h-2.01zM171.25 248.73h2.01v2.01h-2.01zM153.12 250.74h2.01v2.01h-2.01zM177.29 250.74h2.01v2.01h-2.01zM163.19 254.77h2.01v2.01h-2.01zM159.16 262.83h2.01v2.01h-2.01zM177.29 262.83h2.01v2.01h-2.01zM195.42 266.86h2.01v2.01h-2.01zM195.42 270.89h2.01v2.01h-2.01zM167.22 274.91h2.01v2.01h-2.01zM195.42 274.91h2.01v2.01h-2.01zM165.21 278.94h2.01v2.01h-2.01zM193.41 284.99h2.01v2.01h-2.01zM203.48 284.99h2.01v2.01h-2.01zM169.24 287.00h4.03v2.01h-4.03z"/><path fill="rgb(136,8,17)" d="M153.12 220.53h2.01v2.01h-2.01zM189.38 220.53h2.01v2.01h-2.01zM201.46 228.59h2.01v2.01h-2.01zM169.24 232.61h2.01v2.01h-2.01zM171.25 236.64h2.01v2.01h-2.01zM161.18 238.66h2.01v2.01h-2.01zM185.35 242.69h2.01v2.01h-2.01zM185.35 244.70h2.01v2.01h-2.01zM161.18 246.71h2.01v2.01h-2.01zM181.32 246.71h4.03v2.01h-4.03zM193.41 250.74h2.01v2.01h-2.01zM193.41 254.77h2.01v2.01h-2.01zM175.28 256.79h2.01v2.01h-2.01zM175.28 258.80h2.01v2.01h-2.01zM177.29 260.81h2.01v2.01h-2.01zM171.25 262.83h2.01v2.01h-2.01zM203.48 262.83h2.01v2.01h-2.01zM179.31 264.84h2.01v2.01h-2.01zM183.34 264.84h2.01v2.01h-2.01zM165.21 266.86h2.01v2.01h-2.01zM181.32 266.86h4.03v2.01h-4.03zM171.25 268.87h2.01v2.01h-2.01zM177.29 268.87h2.01v2.01h-2.01zM219.59 270.89h2.01v2.01h-2.01zM175.28 272.90h2.01v2.01h-2.01zM193.41 272.90h2.01v2.01h-2.01zM185.35 276.93h2.01v2.01h-2.01zM215.56 276.93h2.01v2.01h-2.01zM203.48 282.97h2.01v2.01h-2.01zM163.19 284.99h2.01v2.01h-2.01zM183.34 287.00h2.01v2.01h-2.01z"/><path fill="rgb(103,0,13)" d="M197.44 224.56h6.04v2.01h-6.04zM197.44 226.57h6.04v2.01h-6.04zM197.44 228.59h4.03v2.01h-4.03zM183.34 234.63h2.01v2.01h-2.01zM185.35 240.67h2.01v2.01h-2.01zM171.25 244.70h2.01v2.01h-2.01zM169.24 246.71h2.01v2.01h-2.01zM181.32 248.73h10.07v2.01h-10.07zM207.51 248.73h2.01v2.01h-2.01zM149.09 250.74h4.03v2.01h-4.03zM179.31 250.74h14.10v2.01h-14.10zM149.09 252.76h6.04v2.01h-6.04zM177.29 252.76h18.13v2.01h-18.13zM215.56 252.76h4.03v2.01h-4.03zM149.09 254.77h4.03v2.01h-4.03zM177.29 254.77h16.11v2.01h-16.11zM199.45 254.77h2.01v2.01h-2.01zM215.56 254.77h4.03v2.01h-4.03zM151.11 256.79h2.01v2.01h-2.01zM177.29 256.79h16.11v2.01h-16.11zM215.56 256.79h4.03v2.01h-4.03zM177.29 258.80h16.11v2.01h-16.11zM179.31 260.81h14.10v2.01h-14.10zM179.31 262.83h12.09v2.01h-12.09zM165.21 264.84h2.01v2.01h-2.01zM185.35 264.84h2.01v2.01h-2.01zM167.22 268.87h2.01v2.01h-2.01zM183.34 272.90h2.01v2.01h-2.01zM191.39 276.93h2.01v2.01h-2.01zM167.22 278.94h2.01v2.01h-2.01zM177.29 278.94h2.01v2.01h-2.01zM163.19 280.96h10.07v2.01h-10.07zM195.42 280.96h8.06v2.01h-8.06zM161.18 282.97h14.10v2.01h-14.10zM195.42 282.97h8.06v2.01h-8.06zM165.21 284.99h8.06v2.01h-8.06zM195.42 284.99h8.06v2.01h-8.06z"/></g></g><rect x="143.05" y="216.5" width="84.6" height="84" fill="none" stroke="#555" stroke-width="0.9"/><rect x="143.05" y="310.4" width="84.6" height="90" fill="rgb(10,0,0)"/><g clip-path="url(#ce1)"><g filter="url(#bl)" shape-rendering="crispEdges"><path fill="rgb(46,0,0)" d="M165.21 326.51h2.01v2.01h-2.01zM199.45 330.54h2.01v2.01h-2.01zM151.11 342.63h2.01v2.01h-2.01zM169.24 352.70h2.01v2.01h-2.01zM169.24 354.71h2.01v2.01h-2.01zM181.32 354.71h2.01v2.01h-2.01zM181.32 362.77h2.01v2.01h-2.01zM173.26 364.79h4.03v2.01h-4.03zM191.39 368.81h2.01v2.01h-2.01z"/><path fill="rgb(81,0,0)" d="M197.44 310.40h2.01v2.01h-2.01zM219.59 314.43h4.03v2.01h-4.03zM223.62 318.46h2.01v2.01h-2.01zM185.35 326.51h2.01v2.01h-2.01zM195.42 326.51h2.01v2.01h-2.01zM213.55 336.59h2.01v2.01h-2.01zM213.55 338.60h2.01v2.01h-2.01zM143.05 346.66h2.01v2.01h-2.01zM175.28 348.67h2.01v2.01h-2.01zM187.36 352.70h2.01v2.01h-2.01zM177.29 354.71h4.03v2.01h-4.03zM169.24 356.73h4.03v2.01h-4.03zM161.18 358.74h2.01v2.01h-2.01zM209.52 364.79h2.01v2.01h-2.01zM185.35 368.81h2.01v2.01h-2.01zM193.41 368.81h2.01v2.01h-2.01zM195.42 370.83h2.01v2.01h-2.01zM193.41 372.84h2.01v2.01h-2.01zM199.45 374.86h2.01v2.01h-2.01zM195.42 376.87h2.01v2.01h-2.01zM159.16 378.89h2.01v2.01h-2.01zM145.06 392.99h2.01v2.01h-2.01z"/><path fill="rgb(116,0,0)" d="M187.36 314.43h2.01v2.01h-2.01zM191.39 328.53h2.01v2.01h-2.01zM179.31 330.54h2.01v2.01h-2.01zM213.55 330.54h2.01v2.01h-2.01zM205.49 332.56h2.01v2.01h-2.01zM215.56 336.59h2.01v2.01h-2.01zM171.25 340.61h2.01v2.01h-2.01zM143.05 344.64h2.01v2.01h-2.01zM205.49 348.67h4.03v2.01h-4.03zM187.36 350.69h2.01v2.01h-2.01zM145.06 352.70h2.01v2.01h-2.01zM205.49 356.73h2.01v2.01h-2.01zM207.51 360.76h2.01v2.01h-2.01zM173.26 362.77h2.01v2.01h-2.01zM209.52 362.77h2.01v2.01h-2.01zM203.48 364.79h2.01v2.01h-2.01zM197.44 374.86h2.01v2.01h-2.01zM201.46 374.86h2.01v2.01h-2.01z"/><path fill="rgb(152,0,0)" d="M173.26 328.53h2.01v2.01h-2.01zM203.48 352.70h2.01v2.01h-2.01zM153.12 356.73h2.01v2.01h-2.01zM207.51 362.77h2.01v2.01h-2.01zM187.36 366.80h2.01v2.01h-2.01zM195.42 372.84h2.01v2.01h-2.01zM195.42 374.86h2.01v2.01h-2.01zM211.54 374.86h2.01v2.01h-2.01z"/><path fill="rgb(187,0,0)" d="M179.31 326.51h2.01v2.01h-2.01zM169.24 340.61h2.01v2.01h-2.01zM159.16 348.67h2.01v2.01h-2.01zM197.44 352.70h2.01v2.01h-2.01zM199.45 368.81h2.01v2.01h-2.01zM187.36 370.83h2.01v2.01h-2.01z"/><path fill="rgb(222,0,0)" d="M173.26 326.51h2.01v2.01h-2.01zM197.44 350.69h2.01v2.01h-2.01zM209.52 354.71h2.01v2.01h-2.01zM217.58 362.77h2.01v2.01h-2.01zM159.16 376.87h2.01v2.01h-2.01zM165.21 376.87h2.01v2.01h-2.01z"/><path fill="rgb(255,2,0)" d="M151.11 328.53h2.01v2.01h-2.01zM173.26 338.60h2.01v2.01h-2.01zM173.26 340.61h2.01v2.01h-2.01zM207.51 344.64h2.01v2.01h-2.01zM189.38 356.73h2.01v2.01h-2.01z"/><path fill="rgb(255,108,0)" d="M149.09 328.53h2.01v2.01h-2.01z"/><path fill="rgb(255,214,0)" d="M199.45 372.84h2.01v2.01h-2.01z"/></g></g><rect x="143.05" y="310.4" width="84.6" height="90" fill="none" stroke="#555" stroke-width="0.9"/><rect x="246.50" y="216.5" width="84.6" height="84" fill="rgb(255,245,240)"/><g clip-path="url(#cd2)"><g filter="url(#bl)" shape-rendering="crispEdges"><path fill="rgb(254,222,207)" d="M256.57 268.87h2.01v2.01h-2.01z"/><path fill="rgb(253,202,181)" d="M284.77 222.54h2.01v2.01h-2.01zM262.61 226.57h2.01v2.01h-2.01zM290.81 232.61h2.01v2.01h-2.01zM329.09 246.71h2.01v2.01h-2.01zM270.67 262.83h2.01v2.01h-2.01zM314.99 264.84h2.01v2.01h-2.01zM286.79 274.91h2.01v2.01h-2.01zM288.80 284.99h2.01v2.01h-2.01zM302.90 287.00h2.01v2.01h-2.01zM258.59 289.01h2.01v2.01h-2.01z"/><path fill="rgb(252,182,155)" d="M294.84 224.56h2.01v2.01h-2.01zM250.53 226.57h2.01v2.01h-2.01zM278.73 236.64h2.01v2.01h-2.01zM296.86 236.64h2.01v2.01h-2.01zM312.97 236.64h2.01v2.01h-2.01zM284.77 240.67h2.01v2.01h-2.01zM268.66 242.69h2.01v2.01h-2.01zM319.01 244.70h2.01v2.01h-2.01zM304.91 250.74h2.01v2.01h-2.01zM310.96 260.81h2.01v2.01h-2.01zM272.69 262.83h2.01v2.01h-2.01zM274.70 264.84h2.01v2.01h-2.01zM300.89 264.84h2.01v2.01h-2.01zM292.83 274.91h2.01v2.01h-2.01zM258.59 278.94h2.01v2.01h-2.01zM286.79 278.94h2.01v2.01h-2.01zM294.84 278.94h2.01v2.01h-2.01zM258.59 284.99h2.01v2.01h-2.01zM292.83 284.99h2.01v2.01h-2.01z"/><path fill="rgb(252,160,130)" d="M272.69 220.53h2.01v2.01h-2.01zM274.70 234.63h2.01v2.01h-2.01zM292.83 236.64h4.03v2.01h-4.03zM272.69 238.66h2.01v2.01h-2.01zM274.70 240.67h2.01v2.01h-2.01zM280.74 240.67h2.01v2.01h-2.01zM286.79 240.67h2.01v2.01h-2.01zM298.87 240.67h2.01v2.01h-2.01zM280.74 242.69h2.01v2.01h-2.01zM304.91 248.73h2.01v2.01h-2.01zM308.94 252.76h2.01v2.01h-2.01zM272.69 254.77h2.01v2.01h-2.01zM306.93 266.86h2.01v2.01h-2.01zM270.67 268.87h2.01v2.01h-2.01zM276.71 274.91h2.01v2.01h-2.01zM290.81 274.91h2.01v2.01h-2.01zM298.87 274.91h2.01v2.01h-2.01zM268.66 276.93h2.01v2.01h-2.01zM262.61 289.01h2.01v2.01h-2.01zM319.01 299.09h2.01v2.01h-2.01z"/><path fill="rgb(252,138,106)" d="M325.06 222.54h2.01v2.01h-2.01zM262.61 238.66h2.01v2.01h-2.01zM276.71 238.66h2.01v2.01h-2.01zM264.63 242.69h2.01v2.01h-2.01zM278.73 248.73h2.01v2.01h-2.01zM325.06 248.73h2.01v2.01h-2.01zM262.61 252.76h2.01v2.01h-2.01zM300.89 252.76h2.01v2.01h-2.01zM302.90 254.77h2.01v2.01h-2.01zM272.69 258.80h2.01v2.01h-2.01zM304.91 258.80h2.01v2.01h-2.01zM270.67 266.86h2.01v2.01h-2.01zM250.53 272.90h2.01v2.01h-2.01zM304.91 276.93h2.01v2.01h-2.01zM278.73 278.94h2.01v2.01h-2.01zM329.09 287.00h2.01v2.01h-2.01zM286.79 293.04h2.01v2.01h-2.01z"/><path fill="rgb(251,117,85)" d="M280.74 216.50h2.01v2.01h-2.01zM304.91 216.50h2.01v2.01h-2.01zM292.83 218.51h2.01v2.01h-2.01zM296.86 222.54h2.01v2.01h-2.01zM280.74 232.61h2.01v2.01h-2.01zM272.69 234.63h2.01v2.01h-2.01zM280.74 236.64h2.01v2.01h-2.01zM290.81 236.64h2.01v2.01h-2.01zM302.90 236.64h2.01v2.01h-2.01zM286.79 242.69h2.01v2.01h-2.01zM296.86 244.70h2.01v2.01h-2.01zM321.03 244.70h2.01v2.01h-2.01zM264.63 248.73h2.01v2.01h-2.01zM264.63 258.80h2.01v2.01h-2.01zM270.67 272.90h2.01v2.01h-2.01zM246.50 276.93h2.01v2.01h-2.01zM282.76 278.94h2.01v2.01h-2.01zM272.69 291.03h2.01v2.01h-2.01z"/><path fill="rgb(248,93,66)" d="M278.73 234.63h2.01v2.01h-2.01zM288.80 236.64h2.01v2.01h-2.01zM266.64 238.66h2.01v2.01h-2.01zM294.84 242.69h2.01v2.01h-2.01zM312.97 242.69h2.01v2.01h-2.01zM256.57 244.70h2.01v2.01h-2.01zM280.74 246.71h2.01v2.01h-2.01zM270.67 250.74h2.01v2.01h-2.01zM272.69 252.76h2.01v2.01h-2.01zM272.69 266.86h2.01v2.01h-2.01zM300.89 266.86h2.01v2.01h-2.01zM308.94 270.89h2.01v2.01h-2.01zM300.89 272.90h2.01v2.01h-2.01zM306.93 276.93h2.01v2.01h-2.01zM288.80 280.96h4.03v2.01h-4.03zM292.83 287.00h2.01v2.01h-2.01z"/><path fill="rgb(241,68,50)" d="M298.87 228.59h2.01v2.01h-2.01zM284.77 230.60h2.01v2.01h-2.01zM325.06 230.60h2.01v2.01h-2.01zM310.96 234.63h2.01v2.01h-2.01zM282.76 236.64h2.01v2.01h-2.01zM288.80 240.67h2.01v2.01h-2.01zM321.03 240.67h2.01v2.01h-2.01zM260.60 246.71h2.01v2.01h-2.01zM272.69 250.74h2.01v2.01h-2.01zM308.94 254.77h2.01v2.01h-2.01zM317.00 254.77h2.01v2.01h-2.01zM304.91 256.79h2.01v2.01h-2.01zM310.96 256.79h2.01v2.01h-2.01zM319.01 258.80h2.01v2.01h-2.01zM292.83 268.87h2.01v2.01h-2.01zM304.91 270.89h2.01v2.01h-2.01zM306.93 274.91h2.01v2.01h-2.01zM292.83 276.93h2.01v2.01h-2.01zM278.73 284.99h2.01v2.01h-2.01z"/><path fill="rgb(227,47,39)" d="M276.71 224.56h2.01v2.01h-2.01zM325.06 224.56h2.01v2.01h-2.01zM282.76 230.60h2.01v2.01h-2.01zM319.01 232.61h2.01v2.01h-2.01zM272.69 236.64h2.01v2.01h-2.01zM284.77 238.66h2.01v2.01h-2.01zM264.63 240.67h2.01v2.01h-2.01zM306.93 240.67h2.01v2.01h-2.01zM298.87 242.69h2.01v2.01h-2.01zM323.04 244.70h2.01v2.01h-2.01zM270.67 246.71h2.01v2.01h-2.01zM298.87 248.73h4.03v2.01h-4.03zM300.89 250.74h2.01v2.01h-2.01zM310.96 250.74h2.01v2.01h-2.01zM264.63 260.81h2.01v2.01h-2.01zM304.91 260.81h2.01v2.01h-2.01zM266.64 264.84h2.01v2.01h-2.01zM284.77 268.87h2.01v2.01h-2.01zM290.81 268.87h2.01v2.01h-2.01zM286.79 270.89h2.01v2.01h-2.01zM278.73 272.90h2.01v2.01h-2.01zM288.80 272.90h2.01v2.01h-2.01zM294.84 276.93h2.01v2.01h-2.01zM268.66 278.94h2.01v2.01h-2.01zM306.93 278.94h2.01v2.01h-2.01zM329.09 278.94h2.01v2.01h-2.01zM268.66 287.00h2.01v2.01h-2.01zM272.69 287.00h2.01v2.01h-2.01zM264.63 291.03h2.01v2.01h-2.01zM270.67 299.09h2.01v2.01h-2.01z"/><path fill="rgb(208,29,31)" d="M264.63 218.51h2.01v2.01h-2.01zM252.54 224.56h2.01v2.01h-2.01zM282.76 238.66h2.01v2.01h-2.01zM300.89 240.67h2.01v2.01h-2.01zM304.91 240.67h2.01v2.01h-2.01zM302.90 242.69h2.01v2.01h-2.01zM284.77 244.70h2.01v2.01h-2.01zM294.84 244.70h2.01v2.01h-2.01zM298.87 246.71h2.01v2.01h-2.01zM312.97 246.71h2.01v2.01h-2.01zM317.00 246.71h2.01v2.01h-2.01zM319.01 248.73h2.01v2.01h-2.01zM321.03 250.74h2.01v2.01h-2.01zM327.07 252.76h2.01v2.01h-2.01zM274.70 254.77h4.03v2.01h-4.03zM325.06 254.77h2.01v2.01h-2.01zM266.64 256.79h2.01v2.01h-2.01zM274.70 258.80h2.01v2.01h-2.01zM256.57 260.81h2.01v2.01h-2.01zM274.70 260.81h2.01v2.01h-2.01zM298.87 262.83h2.01v2.01h-2.01zM274.70 266.86h2.01v2.01h-2.01zM266.64 268.87h2.01v2.01h-2.01zM274.70 268.87h2.01v2.01h-2.01zM278.73 268.87h2.01v2.01h-2.01zM286.79 268.87h2.01v2.01h-2.01zM294.84 268.87h6.04v2.01h-6.04zM302.90 270.89h2.01v2.01h-2.01zM260.60 276.93h2.01v2.01h-2.01zM288.80 278.94h2.01v2.01h-2.01zM288.80 282.97h2.01v2.01h-2.01zM321.03 293.04h2.01v2.01h-2.01zM300.89 295.06h2.01v2.01h-2.01z"/><path fill="rgb(188,20,26)" d="M292.83 220.53h2.01v2.01h-2.01zM274.70 222.54h2.01v2.01h-2.01zM274.70 228.59h2.01v2.01h-2.01zM304.91 238.66h2.01v2.01h-2.01zM274.70 244.70h2.01v2.01h-2.01zM280.74 244.70h2.01v2.01h-2.01zM274.70 246.71h2.01v2.01h-2.01zM282.76 246.71h2.01v2.01h-2.01zM276.71 250.74h2.01v2.01h-2.01zM302.90 250.74h2.01v2.01h-2.01zM306.93 250.74h2.01v2.01h-2.01zM314.99 254.77h2.01v2.01h-2.01zM319.01 256.79h2.01v2.01h-2.01zM266.64 260.81h2.01v2.01h-2.01zM304.91 262.83h2.01v2.01h-2.01zM296.86 264.84h2.01v2.01h-2.01zM296.86 266.86h2.01v2.01h-2.01zM308.94 268.87h2.01v2.01h-2.01zM280.74 270.89h2.01v2.01h-2.01zM284.77 270.89h2.01v2.01h-2.01zM300.89 270.89h2.01v2.01h-2.01zM308.94 272.90h2.01v2.01h-2.01zM314.99 274.91h2.01v2.01h-2.01zM284.77 276.93h2.01v2.01h-2.01zM270.67 278.94h2.01v2.01h-2.01zM298.87 278.94h2.01v2.01h-2.01zM304.91 278.94h2.01v2.01h-2.01zM254.56 293.04h2.01v2.01h-2.01zM260.60 299.09h2.01v2.01h-2.01z"/><path fill="rgb(168,16,22)" d="M302.90 222.54h2.01v2.01h-2.01zM260.60 226.57h2.01v2.01h-2.01zM266.64 226.57h2.01v2.01h-2.01zM270.67 228.59h4.03v2.01h-4.03zM272.69 240.67h2.01v2.01h-2.01zM278.73 240.67h2.01v2.01h-2.01zM260.60 242.69h2.01v2.01h-2.01zM282.76 244.70h2.01v2.01h-2.01zM300.89 244.70h2.01v2.01h-2.01zM304.91 244.70h2.01v2.01h-2.01zM272.69 246.71h2.01v2.01h-2.01zM276.71 246.71h2.01v2.01h-2.01zM302.90 246.71h2.01v2.01h-2.01zM272.69 248.73h2.01v2.01h-2.01zM317.00 250.74h2.01v2.01h-2.01zM250.53 252.76h2.01v2.01h-2.01zM268.66 252.76h2.01v2.01h-2.01zM274.70 252.76h2.01v2.01h-2.01zM250.53 254.77h2.01v2.01h-2.01zM306.93 254.77h2.01v2.01h-2.01zM258.59 256.79h4.03v2.01h-4.03zM274.70 256.79h2.01v2.01h-2.01zM270.67 258.80h2.01v2.01h-2.01zM312.97 260.81h2.01v2.01h-2.01zM264.63 262.83h2.01v2.01h-2.01zM304.91 264.84h2.01v2.01h-2.01zM308.94 266.86h2.01v2.01h-2.01zM276.71 268.87h2.01v2.01h-2.01zM280.74 272.90h2.01v2.01h-2.01zM284.77 274.91h2.01v2.01h-2.01zM276.71 278.94h2.01v2.01h-2.01zM296.86 278.94h2.01v2.01h-2.01zM276.71 280.96h2.01v2.01h-2.01zM306.93 280.96h2.01v2.01h-2.01zM276.71 282.97h2.01v2.01h-2.01zM282.76 284.99h2.01v2.01h-2.01zM306.93 284.99h2.01v2.01h-2.01zM270.67 287.00h2.01v2.01h-2.01zM292.83 291.03h2.01v2.01h-2.01zM260.60 297.07h2.01v2.01h-2.01z"/><path fill="rgb(136,8,17)" d="M252.54 220.53h2.01v2.01h-2.01zM300.89 222.54h2.01v2.01h-2.01zM266.64 224.56h2.01v2.01h-2.01zM290.81 224.56h2.01v2.01h-2.01zM268.66 228.59h2.01v2.01h-2.01zM302.90 228.59h2.01v2.01h-2.01zM274.70 236.64h2.01v2.01h-2.01zM268.66 238.66h2.01v2.01h-2.01zM278.73 238.66h4.03v2.01h-4.03zM300.89 242.69h2.01v2.01h-2.01zM272.69 244.70h2.01v2.01h-2.01zM290.81 244.70h2.01v2.01h-2.01zM310.96 244.70h2.01v2.01h-2.01zM294.84 246.71h4.03v2.01h-4.03zM304.91 246.71h2.01v2.01h-2.01zM296.86 248.73h2.01v2.01h-2.01zM306.93 248.73h2.01v2.01h-2.01zM276.71 252.76h2.01v2.01h-2.01zM300.89 254.77h2.01v2.01h-2.01zM256.57 256.79h2.01v2.01h-2.01zM254.56 258.80h2.01v2.01h-2.01zM268.66 258.80h2.01v2.01h-2.01zM276.71 258.80h2.01v2.01h-2.01zM276.71 260.81h2.01v2.01h-2.01zM300.89 260.81h2.01v2.01h-2.01zM274.70 262.83h4.03v2.01h-4.03zM276.71 264.84h4.03v2.01h-4.03zM276.71 266.86h6.04v2.01h-6.04zM294.84 266.86h2.01v2.01h-2.01zM302.90 266.86h2.01v2.01h-2.01zM280.74 268.87h4.03v2.01h-4.03zM288.80 268.87h2.01v2.01h-2.01zM282.76 270.89h2.01v2.01h-2.01zM292.83 270.89h2.01v2.01h-2.01zM298.87 270.89h2.01v2.01h-2.01zM276.71 272.90h2.01v2.01h-2.01zM302.90 272.90h2.01v2.01h-2.01zM325.06 272.90h2.01v2.01h-2.01zM300.89 276.93h2.01v2.01h-2.01zM280.74 278.94h2.01v2.01h-2.01zM264.63 282.97h2.01v2.01h-2.01zM268.66 297.07h2.01v2.01h-2.01z"/><path fill="rgb(103,0,13)" d="M270.67 222.54h4.03v2.01h-4.03zM268.66 224.56h8.06v2.01h-8.06zM298.87 224.56h8.06v2.01h-8.06zM268.66 226.57h8.06v2.01h-8.06zM298.87 226.57h8.06v2.01h-8.06zM266.64 240.67h2.01v2.01h-2.01zM282.76 240.67h2.01v2.01h-2.01zM270.67 242.69h2.01v2.01h-2.01zM284.77 246.71h10.07v2.01h-10.07zM306.93 246.71h2.01v2.01h-2.01zM252.54 248.73h2.01v2.01h-2.01zM276.71 248.73h2.01v2.01h-2.01zM280.74 248.73h16.11v2.01h-16.11zM252.54 250.74h4.03v2.01h-4.03zM278.73 250.74h22.16v2.01h-22.16zM252.54 252.76h6.04v2.01h-6.04zM278.73 252.76h22.16v2.01h-22.16zM319.01 252.76h6.04v2.01h-6.04zM252.54 254.77h6.04v2.01h-6.04zM278.73 254.77h22.16v2.01h-22.16zM310.96 254.77h2.01v2.01h-2.01zM319.01 254.77h6.04v2.01h-6.04zM252.54 256.79h4.03v2.01h-4.03zM276.71 256.79h24.17v2.01h-24.17zM321.03 256.79h4.03v2.01h-4.03zM278.73 258.80h22.16v2.01h-22.16zM302.90 258.80h2.01v2.01h-2.01zM278.73 260.81h22.16v2.01h-22.16zM278.73 262.83h20.14v2.01h-20.14zM268.66 264.84h2.01v2.01h-2.01zM280.74 264.84h16.11v2.01h-16.11zM282.76 266.86h12.09v2.01h-12.09zM300.89 278.94h4.03v2.01h-4.03zM266.64 280.96h10.07v2.01h-10.07zM296.86 280.96h10.07v2.01h-10.07zM266.64 282.97h10.07v2.01h-10.07zM298.87 282.97h10.07v2.01h-10.07zM266.64 284.99h8.06v2.01h-8.06zM300.89 284.99h6.04v2.01h-6.04zM319.01 287.00h2.01v2.01h-2.01z"/></g></g><rect x="246.50" y="216.5" width="84.6" height="84" fill="none" stroke="#555" stroke-width="0.9"/><rect x="246.50" y="310.4" width="84.6" height="90" fill="rgb(10,0,0)"/><g clip-path="url(#ce2)"><g filter="url(#bl)" shape-rendering="crispEdges"><path fill="rgb(46,0,0)" d="M274.70 314.43h2.01v2.01h-2.01zM258.59 322.49h4.03v2.01h-4.03zM264.63 332.56h2.01v2.01h-2.01zM312.97 334.57h2.01v2.01h-2.01zM310.96 346.66h2.01v2.01h-2.01zM329.09 346.66h2.01v2.01h-2.01zM272.69 350.69h2.01v2.01h-2.01zM292.83 350.69h2.01v2.01h-2.01zM292.83 352.70h2.01v2.01h-2.01zM312.97 360.76h2.01v2.01h-2.01zM312.97 366.80h2.01v2.01h-2.01zM304.91 368.81h2.01v2.01h-2.01zM264.63 372.84h4.03v2.01h-4.03zM290.81 372.84h2.01v2.01h-2.01zM310.96 374.86h2.01v2.01h-2.01zM288.80 382.91h2.01v2.01h-2.01z"/><path fill="rgb(81,0,0)" d="M317.00 312.41h2.01v2.01h-2.01zM272.69 314.43h2.01v2.01h-2.01zM260.60 326.51h2.01v2.01h-2.01zM306.93 326.51h2.01v2.01h-2.01zM312.97 326.51h2.01v2.01h-2.01zM274.70 330.54h2.01v2.01h-2.01zM278.73 330.54h2.01v2.01h-2.01zM292.83 330.54h2.01v2.01h-2.01zM278.73 332.56h2.01v2.01h-2.01zM325.06 334.57h2.01v2.01h-2.01zM312.97 336.59h2.01v2.01h-2.01zM266.64 340.61h2.01v2.01h-2.01zM270.67 340.61h2.01v2.01h-2.01zM317.00 340.61h4.03v2.01h-4.03zM274.70 344.64h2.01v2.01h-2.01zM284.77 344.64h2.01v2.01h-2.01zM274.70 346.66h2.01v2.01h-2.01zM312.97 346.66h2.01v2.01h-2.01zM264.63 350.69h2.01v2.01h-2.01zM314.99 356.73h2.01v2.01h-2.01zM264.63 364.79h2.01v2.01h-2.01zM312.97 368.81h2.01v2.01h-2.01zM292.83 370.83h2.01v2.01h-2.01zM312.97 370.83h2.01v2.01h-2.01zM290.81 376.87h2.01v2.01h-2.01zM276.71 380.90h2.01v2.01h-2.01z"/><path fill="rgb(116,0,0)" d="M290.81 310.40h2.01v2.01h-2.01zM280.74 320.47h2.01v2.01h-2.01zM272.69 324.50h2.01v2.01h-2.01zM284.77 326.51h2.01v2.01h-2.01zM252.54 336.59h2.01v2.01h-2.01zM270.67 336.59h2.01v2.01h-2.01zM248.51 338.60h2.01v2.01h-2.01zM314.99 338.60h2.01v2.01h-2.01zM266.64 342.63h2.01v2.01h-2.01zM288.80 348.67h2.01v2.01h-2.01zM274.70 350.69h2.01v2.01h-2.01zM304.91 354.71h2.01v2.01h-2.01zM290.81 356.73h2.01v2.01h-2.01zM304.91 356.73h2.01v2.01h-2.01zM312.97 356.73h2.01v2.01h-2.01zM308.94 358.74h4.03v2.01h-4.03zM314.99 358.74h2.01v2.01h-2.01zM284.77 364.79h2.01v2.01h-2.01zM270.67 366.80h2.01v2.01h-2.01zM278.73 366.80h2.01v2.01h-2.01zM284.77 370.83h2.01v2.01h-2.01zM302.90 374.86h2.01v2.01h-2.01zM310.96 376.87h2.01v2.01h-2.01zM290.81 378.89h4.03v2.01h-4.03z"/><path fill="rgb(152,0,0)" d="M317.00 328.53h2.01v2.01h-2.01zM282.76 340.61h2.01v2.01h-2.01zM266.64 348.67h2.01v2.01h-2.01zM323.04 350.69h2.01v2.01h-2.01zM288.80 354.71h2.01v2.01h-2.01zM317.00 360.76h2.01v2.01h-2.01zM298.87 364.79h2.01v2.01h-2.01zM304.91 374.86h2.01v2.01h-2.01zM302.90 376.87h2.01v2.01h-2.01zM298.87 380.90h2.01v2.01h-2.01zM325.06 386.94h2.01v2.01h-2.01z"/><path fill="rgb(187,0,0)" d="M274.70 338.60h2.01v2.01h-2.01zM282.76 338.60h2.01v2.01h-2.01zM286.79 348.67h2.01v2.01h-2.01zM329.09 352.70h2.01v2.01h-2.01zM296.86 378.89h2.01v2.01h-2.01z"/><path fill="rgb(222,0,0)" d="M264.63 338.60h2.01v2.01h-2.01zM317.00 370.83h2.01v2.01h-2.01zM294.84 374.86h2.01v2.01h-2.01zM314.99 374.86h2.01v2.01h-2.01zM284.77 390.97h2.01v2.01h-2.01z"/><path fill="rgb(255,2,0)" d="M296.86 334.57h2.01v2.01h-2.01zM258.59 340.61h2.01v2.01h-2.01zM323.04 360.76h2.01v2.01h-2.01z"/><path fill="rgb(255,38,0)" d="M288.80 364.79h2.01v2.01h-2.01z"/><path fill="rgb(255,108,0)" d="M260.60 344.64h2.01v2.01h-2.01z"/><path fill="rgb(255,178,0)" d="M262.61 346.66h2.01v2.01h-2.01z"/></g></g><rect x="246.50" y="310.4" width="84.6" height="90" fill="none" stroke="#555" stroke-width="0.9"/><rect x="349.95" y="216.5" width="84.6" height="84" fill="rgb(255,245,240)"/><g clip-path="url(#cd3)"><g filter="url(#bl)" shape-rendering="crispEdges"><path fill="rgb(254,234,224)" d="M349.95 216.50h2.01v2.01h-2.01zM414.41 216.50h2.01v2.01h-2.01zM418.44 224.56h2.01v2.01h-2.01zM432.54 232.61h2.01v2.01h-2.01zM394.26 242.69h2.01v2.01h-2.01zM382.18 244.70h2.01v2.01h-2.01zM392.25 244.70h2.01v2.01h-2.01zM351.96 248.73h2.01v2.01h-2.01zM370.09 250.74h2.01v2.01h-2.01zM412.39 258.80h2.01v2.01h-2.01zM353.98 262.83h2.01v2.01h-2.01zM358.01 262.83h2.01v2.01h-2.01zM368.08 262.83h2.01v2.01h-2.01zM404.34 266.86h2.01v2.01h-2.01zM360.02 268.87h2.01v2.01h-2.01zM416.42 268.87h2.01v2.01h-2.01zM378.15 276.93h2.01v2.01h-2.01zM430.52 276.93h2.01v2.01h-2.01zM368.08 282.97h2.01v2.01h-2.01zM424.48 282.97h4.03v2.01h-4.03zM428.51 287.00h4.03v2.01h-4.03z"/><path fill="rgb(254,222,207)" d="M374.12 218.51h2.01v2.01h-2.01zM378.15 218.51h2.01v2.01h-2.01zM390.24 218.51h2.01v2.01h-2.01zM394.26 218.51h2.01v2.01h-2.01zM428.51 218.51h2.01v2.01h-2.01zM424.48 222.54h2.01v2.01h-2.01zM424.48 224.56h2.01v2.01h-2.01zM366.06 226.57h2.01v2.01h-2.01zM374.12 226.57h2.01v2.01h-2.01zM384.19 226.57h2.01v2.01h-2.01zM392.25 228.59h2.01v2.01h-2.01zM370.09 230.60h2.01v2.01h-2.01zM370.09 234.63h2.01v2.01h-2.01zM368.08 236.64h2.01v2.01h-2.01zM432.54 236.64h2.01v2.01h-2.01zM384.19 238.66h2.01v2.01h-2.01zM420.45 240.67h2.01v2.01h-2.01zM374.12 242.69h2.01v2.01h-2.01zM424.48 246.71h2.01v2.01h-2.01zM384.19 248.73h2.01v2.01h-2.01zM404.34 248.73h2.01v2.01h-2.01zM404.34 250.74h2.01v2.01h-2.01zM384.19 256.79h2.01v2.01h-2.01zM424.48 258.80h2.01v2.01h-2.01zM364.05 260.81h2.01v2.01h-2.01zM420.45 262.83h2.01v2.01h-2.01zM366.06 264.84h2.01v2.01h-2.01zM372.11 268.87h2.01v2.01h-2.01zM410.38 268.87h2.01v2.01h-2.01zM422.46 268.87h2.01v2.01h-2.01zM370.09 270.89h2.01v2.01h-2.01zM420.45 274.91h2.01v2.01h-2.01zM432.54 274.91h2.01v2.01h-2.01zM390.24 280.96h2.01v2.01h-2.01zM400.31 280.96h2.01v2.01h-2.01zM372.11 282.97h2.01v2.01h-2.01zM376.14 282.97h2.01v2.01h-2.01zM358.01 284.99h2.01v2.01h-2.01zM366.06 287.00h2.01v2.01h-2.01zM390.24 287.00h2.01v2.01h-2.01zM386.21 289.01h2.01v2.01h-2.01zM398.29 289.01h2.01v2.01h-2.01zM364.05 291.03h2.01v2.01h-2.01zM390.24 291.03h2.01v2.01h-2.01zM402.32 291.03h2.01v2.01h-2.01zM349.95 297.07h2.01v2.01h-2.01zM420.45 297.07h2.01v2.01h-2.01z"/><path fill="rgb(253,202,181)" d="M382.18 220.53h2.01v2.01h-2.01zM412.39 222.54h2.01v2.01h-2.01zM408.36 224.56h2.01v2.01h-2.01zM430.52 224.56h2.01v2.01h-2.01zM410.38 226.57h2.01v2.01h-2.01zM420.45 230.60h2.01v2.01h-2.01zM382.18 232.61h2.01v2.01h-2.01zM353.98 236.64h2.01v2.01h-2.01zM364.05 236.64h2.01v2.01h-2.01zM364.05 238.66h2.01v2.01h-2.01zM424.48 242.69h2.01v2.01h-2.01zM414.41 244.70h2.01v2.01h-2.01zM402.32 248.73h2.01v2.01h-2.01zM394.26 252.76h2.01v2.01h-2.01zM422.46 254.77h2.01v2.01h-2.01zM416.42 256.79h2.01v2.01h-2.01zM358.01 258.80h2.01v2.01h-2.01zM400.31 258.80h2.01v2.01h-2.01zM368.08 260.81h2.01v2.01h-2.01zM378.15 264.84h2.01v2.01h-2.01zM424.48 268.87h2.01v2.01h-2.01zM366.06 272.90h2.01v2.01h-2.01zM406.35 272.90h2.01v2.01h-2.01zM374.12 278.94h2.01v2.01h-2.01zM408.36 278.94h2.01v2.01h-2.01zM362.04 284.99h2.01v2.01h-2.01zM382.18 284.99h2.01v2.01h-2.01zM360.02 289.01h2.01v2.01h-2.01zM432.54 293.04h2.01v2.01h-2.01zM358.01 299.09h2.01v2.01h-2.01z"/><path fill="rgb(252,182,155)" d="M432.54 216.50h2.01v2.01h-2.01zM372.11 220.53h2.01v2.01h-2.01zM390.24 222.54h2.01v2.01h-2.01zM406.35 222.54h2.01v2.01h-2.01zM404.34 226.57h2.01v2.01h-2.01zM408.36 226.57h2.01v2.01h-2.01zM406.35 228.59h2.01v2.01h-2.01zM416.42 228.59h2.01v2.01h-2.01zM430.52 228.59h2.01v2.01h-2.01zM400.31 230.60h2.01v2.01h-2.01zM360.02 232.61h2.01v2.01h-2.01zM372.11 242.69h2.01v2.01h-2.01zM374.12 244.70h2.01v2.01h-2.01zM388.22 244.70h2.01v2.01h-2.01zM364.05 246.71h4.03v2.01h-4.03zM376.14 246.71h2.01v2.01h-2.01zM362.04 248.73h2.01v2.01h-2.01zM374.12 248.73h2.01v2.01h-2.01zM355.99 250.74h2.01v2.01h-2.01zM396.28 250.74h2.01v2.01h-2.01zM378.15 252.76h2.01v2.01h-2.01zM392.25 252.76h2.01v2.01h-2.01zM392.25 254.77h2.01v2.01h-2.01zM418.44 254.77h2.01v2.01h-2.01zM406.35 256.79h2.01v2.01h-2.01zM412.39 256.79h2.01v2.01h-2.01zM428.51 256.79h2.01v2.01h-2.01zM376.14 260.81h2.01v2.01h-2.01zM400.31 268.87h2.01v2.01h-2.01zM412.39 268.87h2.01v2.01h-2.01zM362.04 270.89h2.01v2.01h-2.01zM366.06 270.89h2.01v2.01h-2.01zM396.28 276.93h2.01v2.01h-2.01zM432.54 278.94h2.01v2.01h-2.01zM410.38 280.96h2.01v2.01h-2.01zM410.38 282.97h2.01v2.01h-2.01zM432.54 282.97h2.01v2.01h-2.01zM351.96 284.99h2.01v2.01h-2.01zM368.08 287.00h2.01v2.01h-2.01zM420.45 287.00h2.01v2.01h-2.01zM394.26 289.01h2.01v2.01h-2.01zM362.04 291.03h2.01v2.01h-2.01zM424.48 291.03h2.01v2.01h-2.01zM351.96 297.07h2.01v2.01h-2.01zM380.16 297.07h2.01v2.01h-2.01zM394.26 299.09h2.01v2.01h-2.01z"/><path fill="rgb(252,160,130)" d="M408.36 216.50h2.01v2.01h-2.01zM418.44 222.54h2.01v2.01h-2.01zM353.98 224.56h2.01v2.01h-2.01zM380.16 224.56h2.01v2.01h-2.01zM392.25 224.56h2.01v2.01h-2.01zM420.45 226.57h2.01v2.01h-2.01zM412.39 228.59h2.01v2.01h-2.01zM402.32 230.60h2.01v2.01h-2.01zM418.44 232.61h2.01v2.01h-2.01zM414.41 234.63h2.01v2.01h-2.01zM396.28 236.64h2.01v2.01h-2.01zM412.39 244.70h2.01v2.01h-2.01zM414.41 246.71h2.01v2.01h-2.01zM416.42 250.74h2.01v2.01h-2.01zM426.49 250.74h2.01v2.01h-2.01zM364.05 252.76h2.01v2.01h-2.01zM404.34 260.81h2.01v2.01h-2.01zM426.49 266.86h2.01v2.01h-2.01zM358.01 270.89h2.01v2.01h-2.01zM380.16 276.93h2.01v2.01h-2.01zM388.22 276.93h2.01v2.01h-2.01zM416.42 276.93h2.01v2.01h-2.01zM384.19 280.96h2.01v2.01h-2.01zM362.04 287.00h2.01v2.01h-2.01zM386.21 287.00h2.01v2.01h-2.01zM406.35 287.00h2.01v2.01h-2.01zM351.96 289.01h2.01v2.01h-2.01zM390.24 289.01h2.01v2.01h-2.01zM422.46 289.01h2.01v2.01h-2.01zM351.96 291.03h2.01v2.01h-2.01zM416.42 299.09h4.03v2.01h-4.03z"/><path fill="rgb(252,138,106)" d="M392.25 218.51h2.01v2.01h-2.01zM408.36 222.54h2.01v2.01h-2.01zM362.04 224.56h2.01v2.01h-2.01zM430.52 226.57h2.01v2.01h-2.01zM351.96 230.60h2.01v2.01h-2.01zM374.12 230.60h2.01v2.01h-2.01zM426.49 232.61h2.01v2.01h-2.01zM398.29 234.63h2.01v2.01h-2.01zM370.09 238.66h2.01v2.01h-2.01zM364.05 242.69h2.01v2.01h-2.01zM368.08 252.76h2.01v2.01h-2.01zM349.95 256.79h2.01v2.01h-2.01zM406.35 258.80h2.01v2.01h-2.01zM416.42 258.80h2.01v2.01h-2.01zM366.06 266.86h2.01v2.01h-2.01zM358.01 268.87h2.01v2.01h-2.01zM374.12 268.87h2.01v2.01h-2.01zM402.32 270.89h2.01v2.01h-2.01zM358.01 278.94h2.01v2.01h-2.01zM412.39 278.94h2.01v2.01h-2.01zM416.42 278.94h2.01v2.01h-2.01zM355.99 280.96h2.01v2.01h-2.01zM420.45 280.96h2.01v2.01h-2.01zM362.04 282.97h2.01v2.01h-2.01zM398.29 282.97h2.01v2.01h-2.01zM408.36 284.99h2.01v2.01h-2.01zM398.29 287.00h2.01v2.01h-2.01zM418.44 291.03h2.01v2.01h-2.01zM358.01 293.04h2.01v2.01h-2.01zM366.06 293.04h4.03v2.01h-4.03zM378.15 297.07h2.01v2.01h-2.01zM351.96 299.09h2.01v2.01h-2.01zM355.99 299.09h2.01v2.01h-2.01zM414.41 299.09h2.01v2.01h-2.01z"/><path fill="rgb(251,117,85)" d="M394.26 222.54h2.01v2.01h-2.01zM388.22 226.57h2.01v2.01h-2.01zM418.44 226.57h2.01v2.01h-2.01zM355.99 230.60h2.01v2.01h-2.01zM362.04 230.60h2.01v2.01h-2.01zM353.98 232.61h2.01v2.01h-2.01zM386.21 234.63h2.01v2.01h-2.01zM432.54 234.63h2.01v2.01h-2.01zM355.99 240.67h2.01v2.01h-2.01zM384.19 240.67h2.01v2.01h-2.01zM388.22 240.67h2.01v2.01h-2.01zM398.29 240.67h2.01v2.01h-2.01zM412.39 242.69h2.01v2.01h-2.01zM378.15 244.70h2.01v2.01h-2.01zM406.35 244.70h2.01v2.01h-2.01zM398.29 250.74h2.01v2.01h-2.01zM412.39 250.74h2.01v2.01h-2.01zM402.32 252.76h2.01v2.01h-2.01zM430.52 252.76h2.01v2.01h-2.01zM402.32 254.77h2.01v2.01h-2.01zM426.49 254.77h2.01v2.01h-2.01zM430.52 254.77h2.01v2.01h-2.01zM384.19 260.81h2.01v2.01h-2.01zM416.42 262.83h2.01v2.01h-2.01zM422.46 262.83h2.01v2.01h-2.01zM364.05 264.84h2.01v2.01h-2.01zM360.02 266.86h2.01v2.01h-2.01zM412.39 266.86h2.01v2.01h-2.01zM374.12 272.90h2.01v2.01h-2.01zM404.34 272.90h2.01v2.01h-2.01zM368.08 274.91h2.01v2.01h-2.01zM400.31 274.91h2.01v2.01h-2.01zM384.19 276.93h2.01v2.01h-2.01zM351.96 278.94h2.01v2.01h-2.01zM410.38 278.94h2.01v2.01h-2.01zM428.51 278.94h2.01v2.01h-2.01zM376.14 280.96h2.01v2.01h-2.01zM408.36 280.96h2.01v2.01h-2.01zM368.08 284.99h2.01v2.01h-2.01zM382.18 287.00h2.01v2.01h-2.01zM388.22 291.03h2.01v2.01h-2.01zM388.22 295.06h2.01v2.01h-2.01zM408.36 295.06h2.01v2.01h-2.01z"/><path fill="rgb(248,93,66)" d="M388.22 216.50h2.01v2.01h-2.01zM428.51 216.50h2.01v2.01h-2.01zM353.98 220.53h2.01v2.01h-2.01zM376.14 220.53h2.01v2.01h-2.01zM364.05 224.56h2.01v2.01h-2.01zM394.26 224.56h2.01v2.01h-2.01zM406.35 224.56h2.01v2.01h-2.01zM378.15 226.57h2.01v2.01h-2.01zM386.21 228.59h2.01v2.01h-2.01zM404.34 228.59h2.01v2.01h-2.01zM424.48 228.59h2.01v2.01h-2.01zM412.39 230.60h2.01v2.01h-2.01zM414.41 232.61h2.01v2.01h-2.01zM430.52 232.61h2.01v2.01h-2.01zM404.34 234.63h2.01v2.01h-2.01zM408.36 234.63h2.01v2.01h-2.01zM416.42 234.63h2.01v2.01h-2.01zM416.42 236.64h2.01v2.01h-2.01zM432.54 238.66h2.01v2.01h-2.01zM396.28 244.70h2.01v2.01h-2.01zM398.29 248.73h2.01v2.01h-2.01zM426.49 248.73h2.01v2.01h-2.01zM414.41 252.76h2.01v2.01h-2.01zM384.19 254.77h2.01v2.01h-2.01zM370.09 256.79h2.01v2.01h-2.01zM380.16 256.79h2.01v2.01h-2.01zM362.04 262.83h2.01v2.01h-2.01zM384.19 262.83h2.01v2.01h-2.01zM380.16 264.84h2.01v2.01h-2.01zM358.01 266.86h2.01v2.01h-2.01zM398.29 272.90h2.01v2.01h-2.01zM386.21 274.91h2.01v2.01h-2.01zM428.51 274.91h2.01v2.01h-2.01zM362.04 276.93h2.01v2.01h-2.01zM374.12 276.93h2.01v2.01h-2.01zM414.41 276.93h2.01v2.01h-2.01zM364.05 278.94h2.01v2.01h-2.01zM424.48 278.94h2.01v2.01h-2.01zM416.42 280.96h2.01v2.01h-2.01zM400.31 282.97h2.01v2.01h-2.01zM396.28 284.99h2.01v2.01h-2.01zM408.36 293.04h2.01v2.01h-2.01zM355.99 297.07h2.01v2.01h-2.01zM410.38 297.07h2.01v2.01h-2.01zM402.32 299.09h2.01v2.01h-2.01z"/><path fill="rgb(241,68,50)" d="M366.06 216.50h2.01v2.01h-2.01zM366.06 218.51h2.01v2.01h-2.01zM414.41 222.54h2.01v2.01h-2.01zM378.15 224.56h2.01v2.01h-2.01zM428.51 224.56h2.01v2.01h-2.01zM416.42 226.57h2.01v2.01h-2.01zM394.26 228.59h2.01v2.01h-2.01zM404.34 230.60h2.01v2.01h-2.01zM392.25 234.63h4.03v2.01h-4.03zM410.38 238.66h2.01v2.01h-2.01zM394.26 240.67h2.01v2.01h-2.01zM430.52 240.67h2.01v2.01h-2.01zM353.98 242.69h2.01v2.01h-2.01zM418.44 246.71h2.01v2.01h-2.01zM430.52 248.73h2.01v2.01h-2.01zM360.02 250.74h2.01v2.01h-2.01zM353.98 254.77h2.01v2.01h-2.01zM414.41 254.77h2.01v2.01h-2.01zM408.36 256.79h2.01v2.01h-2.01zM362.04 258.80h2.01v2.01h-2.01zM398.29 258.80h2.01v2.01h-2.01zM410.38 258.80h2.01v2.01h-2.01zM380.16 260.81h2.01v2.01h-2.01zM418.44 260.81h2.01v2.01h-2.01zM364.05 262.83h2.01v2.01h-2.01zM402.32 262.83h2.01v2.01h-2.01zM374.12 270.89h2.01v2.01h-2.01zM416.42 270.89h2.01v2.01h-2.01zM355.99 272.90h2.01v2.01h-2.01zM386.21 272.90h2.01v2.01h-2.01zM406.35 274.91h2.01v2.01h-2.01zM364.05 276.93h2.01v2.01h-2.01zM398.29 276.93h2.01v2.01h-2.01zM360.02 278.94h2.01v2.01h-2.01zM372.11 280.96h2.01v2.01h-2.01zM420.45 282.97h2.01v2.01h-2.01zM394.26 287.00h2.01v2.01h-2.01zM351.96 295.06h2.01v2.01h-2.01zM422.46 295.06h2.01v2.01h-2.01zM368.08 297.07h2.01v2.01h-2.01z"/><path fill="rgb(227,47,39)" d="M360.02 216.50h2.01v2.01h-2.01zM400.31 216.50h2.01v2.01h-2.01zM384.19 220.53h2.01v2.01h-2.01zM420.45 220.53h2.01v2.01h-2.01zM351.96 226.57h2.01v2.01h-2.01zM428.51 226.57h2.01v2.01h-2.01zM432.54 226.57h2.01v2.01h-2.01zM398.29 230.60h2.01v2.01h-2.01zM362.04 232.61h4.03v2.01h-4.03zM372.11 234.63h2.01v2.01h-2.01zM362.04 236.64h2.01v2.01h-2.01zM382.18 236.64h2.01v2.01h-2.01zM360.02 240.67h2.01v2.01h-2.01zM430.52 242.69h2.01v2.01h-2.01zM358.01 244.70h2.01v2.01h-2.01zM402.32 244.70h2.01v2.01h-2.01zM420.45 244.70h2.01v2.01h-2.01zM374.12 246.71h2.01v2.01h-2.01zM360.02 248.73h2.01v2.01h-2.01zM420.45 248.73h2.01v2.01h-2.01zM353.98 250.74h2.01v2.01h-2.01zM366.06 252.76h2.01v2.01h-2.01zM404.34 254.77h2.01v2.01h-2.01zM404.34 256.79h2.01v2.01h-2.01zM366.06 258.80h2.01v2.01h-2.01zM402.32 258.80h2.01v2.01h-2.01zM398.29 262.83h2.01v2.01h-2.01zM408.36 262.83h2.01v2.01h-2.01zM355.99 264.84h2.01v2.01h-2.01zM384.19 264.84h2.01v2.01h-2.01zM362.04 268.87h2.01v2.01h-2.01zM406.35 268.87h2.01v2.01h-2.01zM382.18 270.89h2.01v2.01h-2.01zM372.11 276.93h2.01v2.01h-2.01zM400.31 276.93h2.01v2.01h-2.01zM380.16 284.99h2.01v2.01h-2.01zM388.22 293.04h2.01v2.01h-2.01zM360.02 299.09h2.01v2.01h-2.01zM378.15 299.09h2.01v2.01h-2.01zM406.35 299.09h2.01v2.01h-2.01z"/><path fill="rgb(208,29,31)" d="M388.22 220.53h2.01v2.01h-2.01zM368.08 224.56h2.01v2.01h-2.01zM374.12 228.59h2.01v2.01h-2.01zM410.38 232.61h2.01v2.01h-2.01zM370.09 236.64h2.01v2.01h-2.01zM392.25 236.64h2.01v2.01h-2.01zM349.95 238.66h2.01v2.01h-2.01zM388.22 238.66h2.01v2.01h-2.01zM404.34 240.67h4.03v2.01h-4.03zM376.14 242.69h4.03v2.01h-4.03zM408.36 242.69h2.01v2.01h-2.01zM408.36 244.70h2.01v2.01h-2.01zM368.08 246.71h2.01v2.01h-2.01zM392.25 246.71h2.01v2.01h-2.01zM372.11 250.74h2.01v2.01h-2.01zM384.19 250.74h2.01v2.01h-2.01zM351.96 252.76h2.01v2.01h-2.01zM386.21 252.76h2.01v2.01h-2.01zM390.24 252.76h2.01v2.01h-2.01zM355.99 254.77h2.01v2.01h-2.01zM376.14 254.77h4.03v2.01h-4.03zM370.09 260.81h2.01v2.01h-2.01zM426.49 260.81h2.01v2.01h-2.01zM366.06 262.83h2.01v2.01h-2.01zM370.09 264.84h2.01v2.01h-2.01zM402.32 264.84h2.01v2.01h-2.01zM424.48 264.84h2.01v2.01h-2.01zM355.99 266.86h2.01v2.01h-2.01zM410.38 266.86h2.01v2.01h-2.01zM432.54 266.86h2.01v2.01h-2.01zM386.21 270.89h2.01v2.01h-2.01zM368.08 272.90h2.01v2.01h-2.01zM402.32 272.90h2.01v2.01h-2.01zM378.15 278.94h2.01v2.01h-2.01zM422.46 278.94h2.01v2.01h-2.01zM406.35 280.96h2.01v2.01h-2.01zM382.18 282.97h2.01v2.01h-2.01zM410.38 284.99h2.01v2.01h-2.01zM380.16 291.03h2.01v2.01h-2.01zM400.31 291.03h2.01v2.01h-2.01zM416.42 291.03h2.01v2.01h-2.01zM420.45 291.03h2.01v2.01h-2.01zM410.38 293.04h2.01v2.01h-2.01zM418.44 295.06h2.01v2.01h-2.01zM358.01 297.07h2.01v2.01h-2.01zM382.18 297.07h2.01v2.01h-2.01zM428.51 299.09h2.01v2.01h-2.01z"/><path fill="rgb(188,20,26)" d="M380.16 218.51h2.01v2.01h-2.01zM378.15 220.53h2.01v2.01h-2.01zM392.25 222.54h2.01v2.01h-2.01zM368.08 226.57h2.01v2.01h-2.01zM380.16 226.57h2.01v2.01h-2.01zM384.19 228.59h2.01v2.01h-2.01zM388.22 228.59h2.01v2.01h-2.01zM376.14 232.61h2.01v2.01h-2.01zM384.19 232.61h2.01v2.01h-2.01zM396.28 234.63h2.01v2.01h-2.01zM380.16 236.64h2.01v2.01h-2.01zM404.34 236.64h2.01v2.01h-2.01zM414.41 236.64h2.01v2.01h-2.01zM430.52 236.64h2.01v2.01h-2.01zM400.31 238.66h2.01v2.01h-2.01zM408.36 238.66h2.01v2.01h-2.01zM378.15 240.67h2.01v2.01h-2.01zM386.21 242.69h2.01v2.01h-2.01zM392.25 242.69h2.01v2.01h-2.01zM424.48 244.70h2.01v2.01h-2.01zM408.36 246.71h2.01v2.01h-2.01zM412.39 248.73h2.01v2.01h-2.01zM392.25 250.74h2.01v2.01h-2.01zM428.51 250.74h2.01v2.01h-2.01zM370.09 254.77h2.01v2.01h-2.01zM388.22 254.77h4.03v2.01h-4.03zM406.35 254.77h2.01v2.01h-2.01zM374.12 256.79h2.01v2.01h-2.01zM382.18 256.79h2.01v2.01h-2.01zM388.22 256.79h2.01v2.01h-2.01zM418.44 256.79h2.01v2.01h-2.01zM400.31 260.81h2.01v2.01h-2.01zM386.21 262.83h2.01v2.01h-2.01zM406.35 266.86h2.01v2.01h-2.01zM398.29 268.87h2.01v2.01h-2.01zM428.51 270.89h2.01v2.01h-2.01zM372.11 272.90h2.01v2.01h-2.01zM349.95 278.94h2.01v2.01h-2.01zM388.22 278.94h2.01v2.01h-2.01zM412.39 280.96h2.01v2.01h-2.01zM404.34 282.97h2.01v2.01h-2.01zM400.31 287.00h2.01v2.01h-2.01zM372.11 291.03h2.01v2.01h-2.01zM353.98 293.04h2.01v2.01h-2.01zM372.11 293.04h2.01v2.01h-2.01z"/><path fill="rgb(168,16,22)" d="M402.32 216.50h2.01v2.01h-2.01zM368.08 220.53h2.01v2.01h-2.01zM374.12 220.53h2.01v2.01h-2.01zM370.09 224.56h2.01v2.01h-2.01zM366.06 230.60h2.01v2.01h-2.01zM392.25 230.60h2.01v2.01h-2.01zM366.06 234.63h2.01v2.01h-2.01zM406.35 234.63h2.01v2.01h-2.01zM420.45 234.63h2.01v2.01h-2.01zM406.35 236.64h4.03v2.01h-4.03zM404.34 238.66h4.03v2.01h-4.03zM420.45 238.66h2.01v2.01h-2.01zM360.02 244.70h2.01v2.01h-2.01zM428.51 244.70h2.01v2.01h-2.01zM386.21 246.71h2.01v2.01h-2.01zM390.24 246.71h2.01v2.01h-2.01zM412.39 246.71h2.01v2.01h-2.01zM349.95 248.73h2.01v2.01h-2.01zM353.98 248.73h2.01v2.01h-2.01zM386.21 248.73h2.01v2.01h-2.01zM390.24 248.73h4.03v2.01h-4.03zM406.35 248.73h2.01v2.01h-2.01zM388.22 250.74h4.03v2.01h-4.03zM418.44 252.76h2.01v2.01h-2.01zM368.08 254.77h2.01v2.01h-2.01zM410.38 254.77h2.01v2.01h-2.01zM358.01 256.79h2.01v2.01h-2.01zM366.06 256.79h2.01v2.01h-2.01zM378.15 256.79h2.01v2.01h-2.01zM370.09 258.80h2.01v2.01h-2.01zM386.21 258.80h2.01v2.01h-2.01zM408.36 260.81h2.01v2.01h-2.01zM374.12 262.83h2.01v2.01h-2.01zM382.18 262.83h2.01v2.01h-2.01zM374.12 264.84h2.01v2.01h-2.01zM426.49 268.87h2.01v2.01h-2.01zM358.01 272.90h2.01v2.01h-2.01zM414.41 274.91h2.01v2.01h-2.01zM424.48 274.91h2.01v2.01h-2.01zM394.26 276.93h2.01v2.01h-2.01zM382.18 278.94h2.01v2.01h-2.01zM428.51 280.96h2.01v2.01h-2.01zM392.25 282.97h2.01v2.01h-2.01zM406.35 282.97h2.01v2.01h-2.01zM360.02 287.00h2.01v2.01h-2.01zM400.31 289.01h2.01v2.01h-2.01zM366.06 291.03h2.01v2.01h-2.01zM355.99 295.06h2.01v2.01h-2.01zM426.49 297.07h2.01v2.01h-2.01zM396.28 299.09h2.01v2.01h-2.01z"/><path fill="rgb(136,8,17)" d="M402.32 218.51h2.01v2.01h-2.01zM372.11 222.54h2.01v2.01h-2.01zM396.28 222.54h2.01v2.01h-2.01zM372.11 226.57h2.01v2.01h-2.01zM349.95 228.59h2.01v2.01h-2.01zM382.18 228.59h2.01v2.01h-2.01zM372.11 230.60h2.01v2.01h-2.01zM384.19 230.60h2.01v2.01h-2.01zM432.54 230.60h2.01v2.01h-2.01zM368.08 232.61h2.01v2.01h-2.01zM382.18 234.63h2.01v2.01h-2.01zM370.09 240.67h2.01v2.01h-2.01zM400.31 242.69h2.01v2.01h-2.01zM370.09 244.70h2.01v2.01h-2.01zM404.34 246.71h2.01v2.01h-2.01zM378.15 248.73h2.01v2.01h-2.01zM388.22 248.73h2.01v2.01h-2.01zM376.14 250.74h2.01v2.01h-2.01zM402.32 250.74h2.01v2.01h-2.01zM422.46 250.74h2.01v2.01h-2.01zM398.29 252.76h4.03v2.01h-4.03zM400.31 256.79h2.01v2.01h-2.01zM355.99 258.80h2.01v2.01h-2.01zM398.29 260.81h2.01v2.01h-2.01zM424.48 262.83h2.01v2.01h-2.01zM372.11 264.84h2.01v2.01h-2.01zM406.35 264.84h2.01v2.01h-2.01zM430.52 266.86h2.01v2.01h-2.01zM408.36 270.89h2.01v2.01h-2.01zM349.95 274.91h2.01v2.01h-2.01zM410.38 274.91h2.01v2.01h-2.01zM390.24 276.93h4.03v2.01h-4.03zM390.24 278.94h2.01v2.01h-2.01zM374.12 282.97h2.01v2.01h-2.01zM398.29 284.99h2.01v2.01h-2.01zM349.95 287.00h2.01v2.01h-2.01zM366.06 289.01h2.01v2.01h-2.01zM378.15 289.01h2.01v2.01h-2.01zM402.32 293.04h2.01v2.01h-2.01zM430.52 293.04h2.01v2.01h-2.01zM382.18 295.06h2.01v2.01h-2.01zM396.28 297.07h2.01v2.01h-2.01z"/><path fill="rgb(103,0,13)" d="M355.99 216.50h4.03v2.01h-4.03zM424.48 216.50h2.01v2.01h-2.01zM353.98 218.51h2.01v2.01h-2.01zM380.16 222.54h2.01v2.01h-2.01zM390.24 224.56h2.01v2.01h-2.01zM380.16 228.59h2.01v2.01h-2.01zM374.12 234.63h8.06v2.01h-8.06zM351.96 236.64h2.01v2.01h-2.01zM372.11 236.64h8.06v2.01h-8.06zM372.11 238.66h8.06v2.01h-8.06zM394.26 238.66h2.01v2.01h-2.01zM376.14 240.67h2.01v2.01h-2.01zM386.21 240.67h2.01v2.01h-2.01zM390.24 240.67h2.01v2.01h-2.01zM410.38 242.69h2.01v2.01h-2.01zM388.22 246.71h2.01v2.01h-2.01zM422.46 246.71h2.01v2.01h-2.01zM368.08 248.73h4.03v2.01h-4.03zM408.36 250.74h2.01v2.01h-2.01zM384.19 252.76h2.01v2.01h-2.01zM408.36 252.76h2.01v2.01h-2.01zM390.24 256.79h10.07v2.01h-10.07zM388.22 258.80h10.07v2.01h-10.07zM430.52 258.80h2.01v2.01h-2.01zM388.22 260.81h10.07v2.01h-10.07zM388.22 262.83h10.07v2.01h-10.07zM386.21 264.84h12.09v2.01h-12.09zM384.19 266.86h16.11v2.01h-16.11zM388.22 268.87h10.07v2.01h-10.07zM388.22 270.89h10.07v2.01h-10.07zM388.22 272.90h10.07v2.01h-10.07zM390.24 274.91h8.06v2.01h-8.06zM353.98 276.93h2.01v2.01h-2.01zM384.19 289.01h2.01v2.01h-2.01z"/></g></g><rect x="349.95" y="216.5" width="84.6" height="84" fill="none" stroke="#555" stroke-width="0.9"/><rect x="349.95" y="310.4" width="84.6" height="90" fill="rgb(10,0,0)"/><g clip-path="url(#ce3)"><g filter="url(#bl)" shape-rendering="crispEdges"><path fill="rgb(46,0,0)" d="M424.48 310.40h2.01v2.01h-2.01zM394.26 314.43h2.01v2.01h-2.01zM386.21 326.51h2.01v2.01h-2.01zM386.21 328.53h2.01v2.01h-2.01zM404.34 332.56h2.01v2.01h-2.01zM412.39 334.57h2.01v2.01h-2.01zM406.35 336.59h2.01v2.01h-2.01zM380.16 338.60h2.01v2.01h-2.01zM353.98 346.66h2.01v2.01h-2.01zM412.39 346.66h2.01v2.01h-2.01zM412.39 348.67h2.01v2.01h-2.01zM349.95 352.70h2.01v2.01h-2.01zM414.41 352.70h2.01v2.01h-2.01zM424.48 352.70h2.01v2.01h-2.01zM368.08 354.71h2.01v2.01h-2.01zM414.41 354.71h2.01v2.01h-2.01zM374.12 374.86h2.01v2.01h-2.01zM374.12 376.87h2.01v2.01h-2.01zM402.32 386.94h4.03v2.01h-4.03zM402.32 388.96h2.01v2.01h-2.01z"/><path fill="rgb(81,0,0)" d="M390.24 318.46h2.01v2.01h-2.01zM366.06 322.49h2.01v2.01h-2.01zM355.99 326.51h2.01v2.01h-2.01zM355.99 328.53h2.01v2.01h-2.01zM378.15 328.53h2.01v2.01h-2.01zM388.22 328.53h2.01v2.01h-2.01zM390.24 330.54h2.01v2.01h-2.01zM398.29 330.54h2.01v2.01h-2.01zM402.32 330.54h2.01v2.01h-2.01zM412.39 332.56h6.04v2.01h-6.04zM374.12 334.57h2.01v2.01h-2.01zM406.35 334.57h4.03v2.01h-4.03zM398.29 336.59h2.01v2.01h-2.01zM418.44 338.60h2.01v2.01h-2.01zM412.39 340.61h2.01v2.01h-2.01zM386.21 342.63h2.01v2.01h-2.01zM380.16 344.64h2.01v2.01h-2.01zM396.28 344.64h4.03v2.01h-4.03zM351.96 346.66h2.01v2.01h-2.01zM380.16 352.70h2.01v2.01h-2.01zM422.46 352.70h2.01v2.01h-2.01zM349.95 354.71h2.01v2.01h-2.01zM370.09 354.71h2.01v2.01h-2.01zM390.24 356.73h2.01v2.01h-2.01zM388.22 362.77h2.01v2.01h-2.01zM416.42 362.77h2.01v2.01h-2.01zM372.11 370.83h2.01v2.01h-2.01zM414.41 372.84h2.01v2.01h-2.01zM406.35 374.86h4.03v2.01h-4.03zM370.09 376.87h2.01v2.01h-2.01zM406.35 376.87h2.01v2.01h-2.01zM430.52 378.89h4.03v2.01h-4.03zM404.34 388.96h2.01v2.01h-2.01z"/><path fill="rgb(116,0,0)" d="M416.42 310.40h4.03v2.01h-4.03zM426.49 310.40h2.01v2.01h-2.01zM388.22 316.44h2.01v2.01h-2.01zM388.22 318.46h2.01v2.01h-2.01zM366.06 320.47h2.01v2.01h-2.01zM353.98 326.51h2.01v2.01h-2.01zM388.22 326.51h2.01v2.01h-2.01zM408.36 326.51h2.01v2.01h-2.01zM372.11 330.54h2.01v2.01h-2.01zM376.14 330.54h2.01v2.01h-2.01zM406.35 330.54h4.03v2.01h-4.03zM428.51 332.56h2.01v2.01h-2.01zM402.32 334.57h2.01v2.01h-2.01zM428.51 334.57h2.01v2.01h-2.01zM396.28 336.59h2.01v2.01h-2.01zM388.22 338.60h2.01v2.01h-2.01zM380.16 342.63h2.01v2.01h-2.01zM384.19 342.63h2.01v2.01h-2.01zM364.05 348.67h2.01v2.01h-2.01zM394.26 354.71h2.01v2.01h-2.01zM378.15 356.73h2.01v2.01h-2.01zM394.26 356.73h2.01v2.01h-2.01zM374.12 360.76h2.01v2.01h-2.01zM408.36 360.76h2.01v2.01h-2.01zM386.21 362.77h2.01v2.01h-2.01zM414.41 362.77h2.01v2.01h-2.01zM370.09 374.86h2.01v2.01h-2.01zM376.14 374.86h2.01v2.01h-2.01zM400.31 376.87h2.01v2.01h-2.01zM418.44 376.87h2.01v2.01h-2.01zM430.52 376.87h2.01v2.01h-2.01zM386.21 382.91h2.01v2.01h-2.01zM428.51 382.91h2.01v2.01h-2.01zM398.29 392.99h2.01v2.01h-2.01z"/><path fill="rgb(152,0,0)" d="M426.49 318.46h2.01v2.01h-2.01zM408.36 324.50h2.01v2.01h-2.01zM380.16 326.51h2.01v2.01h-2.01zM374.12 328.53h2.01v2.01h-2.01zM368.08 334.57h2.01v2.01h-2.01zM360.02 338.60h2.01v2.01h-2.01zM386.21 340.61h2.01v2.01h-2.01zM382.18 342.63h2.01v2.01h-2.01zM390.24 342.63h2.01v2.01h-2.01zM353.98 350.69h2.01v2.01h-2.01zM364.05 350.69h2.01v2.01h-2.01zM392.25 360.76h2.01v2.01h-2.01zM376.14 366.80h2.01v2.01h-2.01zM386.21 368.81h2.01v2.01h-2.01zM408.36 376.87h4.03v2.01h-4.03z"/><path fill="rgb(187,0,0)" d="M398.29 314.43h2.01v2.01h-2.01zM368.08 330.54h2.01v2.01h-2.01zM402.32 332.56h2.01v2.01h-2.01zM360.02 336.59h2.01v2.01h-2.01zM380.16 336.59h2.01v2.01h-2.01zM353.98 338.60h4.03v2.01h-4.03zM412.39 372.84h2.01v2.01h-2.01zM402.32 374.86h2.01v2.01h-2.01zM410.38 374.86h2.01v2.01h-2.01zM370.09 386.94h2.01v2.01h-2.01zM382.18 392.99h2.01v2.01h-2.01z"/><path fill="rgb(222,0,0)" d="M412.39 310.40h4.03v2.01h-4.03zM398.29 316.44h2.01v2.01h-2.01zM366.06 330.54h2.01v2.01h-2.01zM374.12 332.56h2.01v2.01h-2.01zM376.14 334.57h2.01v2.01h-2.01zM408.36 340.61h2.01v2.01h-2.01zM392.25 344.64h2.01v2.01h-2.01zM418.44 346.66h2.01v2.01h-2.01zM420.45 348.67h2.01v2.01h-2.01zM394.26 360.76h2.01v2.01h-2.01zM404.34 374.86h2.01v2.01h-2.01z"/><path fill="rgb(255,2,0)" d="M376.14 332.56h4.03v2.01h-4.03zM432.54 336.59h2.01v2.01h-2.01zM404.34 360.76h2.01v2.01h-2.01zM416.42 360.76h2.01v2.01h-2.01z"/><path fill="rgb(255,38,0)" d="M402.32 354.71h2.01v2.01h-2.01zM404.34 358.74h2.01v2.01h-2.01zM414.41 360.76h2.01v2.01h-2.01z"/><path fill="rgb(255,73,0)" d="M380.16 328.53h4.03v2.01h-4.03zM355.99 334.57h2.01v2.01h-2.01zM355.99 344.64h2.01v2.01h-2.01zM408.36 392.99h2.01v2.01h-2.01z"/><path fill="rgb(255,108,0)" d="M422.46 312.41h2.01v2.01h-2.01zM355.99 342.63h2.01v2.01h-2.01z"/><path fill="rgb(255,143,0)" d="M390.24 314.43h2.01v2.01h-2.01zM386.21 334.57h2.01v2.01h-2.01z"/><path fill="rgb(255,178,0)" d="M394.26 332.56h2.01v2.01h-2.01zM408.36 390.97h2.01v2.01h-2.01z"/><path fill="rgb(255,214,0)" d="M422.46 314.43h2.01v2.01h-2.01z"/><path fill="rgb(255,249,0)" d="M392.25 314.43h2.01v2.01h-2.01zM388.22 334.57h2.01v2.01h-2.01z"/></g></g><rect x="349.95" y="310.4" width="84.6" height="90" fill="none" stroke="#555" stroke-width="0.9"/><rect x="453.40" y="216.5" width="84.6" height="84" fill="rgb(255,245,240)"/><g clip-path="url(#cd4)"><g filter="url(#bl)" shape-rendering="crispEdges"><path fill="rgb(253,202,181)" d="M503.76 250.74h2.01v2.01h-2.01zM511.81 250.74h2.01v2.01h-2.01zM473.54 270.89h2.01v2.01h-2.01z"/><path fill="rgb(252,182,155)" d="M479.59 266.86h2.01v2.01h-2.01zM507.79 280.96h2.01v2.01h-2.01zM485.63 291.03h2.01v2.01h-2.01z"/><path fill="rgb(252,160,130)" d="M497.71 244.70h2.01v2.01h-2.01zM511.81 262.83h2.01v2.01h-2.01zM471.53 270.89h2.01v2.01h-2.01zM513.83 272.90h2.01v2.01h-2.01zM475.56 280.96h2.01v2.01h-2.01z"/><path fill="rgb(252,138,106)" d="M517.86 222.54h2.01v2.01h-2.01zM495.70 240.67h4.03v2.01h-4.03zM523.90 240.67h2.01v2.01h-2.01zM519.87 258.80h2.01v2.01h-2.01zM475.56 262.83h2.01v2.01h-2.01zM509.80 264.84h2.01v2.01h-2.01zM505.77 266.86h2.01v2.01h-2.01zM509.80 266.86h2.01v2.01h-2.01zM517.86 266.86h2.01v2.01h-2.01zM473.54 272.90h2.01v2.01h-2.01zM515.84 276.93h2.01v2.01h-2.01zM507.79 278.94h2.01v2.01h-2.01zM523.90 280.96h2.01v2.01h-2.01zM485.63 282.97h2.01v2.01h-2.01zM457.43 297.07h2.01v2.01h-2.01zM477.57 299.09h2.01v2.01h-2.01z"/><path fill="rgb(251,117,85)" d="M473.54 240.67h2.01v2.01h-2.01zM489.66 244.70h2.01v2.01h-2.01zM475.56 248.73h2.01v2.01h-2.01zM509.80 252.76h2.01v2.01h-2.01zM477.57 256.79h2.01v2.01h-2.01zM481.60 256.79h2.01v2.01h-2.01zM505.77 260.81h4.03v2.01h-4.03zM483.61 266.86h2.01v2.01h-2.01zM503.76 268.87h2.01v2.01h-2.01zM477.57 272.90h2.01v2.01h-2.01zM509.80 274.91h2.01v2.01h-2.01zM497.71 278.94h2.01v2.01h-2.01zM503.76 278.94h2.01v2.01h-2.01zM489.66 282.97h2.01v2.01h-2.01z"/><path fill="rgb(248,93,66)" d="M533.97 234.63h2.01v2.01h-2.01zM489.66 240.67h2.01v2.01h-2.01zM519.87 244.70h2.01v2.01h-2.01zM475.56 246.71h2.01v2.01h-2.01zM485.63 246.71h2.01v2.01h-2.01zM501.74 248.73h2.01v2.01h-2.01zM499.73 250.74h4.03v2.01h-4.03zM511.81 260.81h2.01v2.01h-2.01zM503.76 262.83h2.01v2.01h-2.01zM505.77 264.84h2.01v2.01h-2.01zM507.79 266.86h2.01v2.01h-2.01zM509.80 268.87h2.01v2.01h-2.01zM491.67 278.94h2.01v2.01h-2.01zM497.71 284.99h2.01v2.01h-2.01zM495.70 289.01h2.01v2.01h-2.01zM469.51 297.07h2.01v2.01h-2.01z"/><path fill="rgb(241,68,50)" d="M481.60 232.61h2.01v2.01h-2.01zM495.70 236.64h2.01v2.01h-2.01zM515.84 242.69h2.01v2.01h-2.01zM517.86 244.70h2.01v2.01h-2.01zM499.73 246.71h2.01v2.01h-2.01zM497.71 248.73h2.01v2.01h-2.01zM469.51 254.77h2.01v2.01h-2.01zM483.61 256.79h2.01v2.01h-2.01zM459.44 258.80h2.01v2.01h-2.01zM509.80 258.80h2.01v2.01h-2.01zM479.59 262.83h2.01v2.01h-2.01zM503.76 264.84h2.01v2.01h-2.01zM513.83 264.84h2.01v2.01h-2.01zM473.54 266.86h2.01v2.01h-2.01zM499.73 274.91h2.01v2.01h-2.01zM485.63 278.94h2.01v2.01h-2.01z"/><path fill="rgb(227,47,39)" d="M493.69 234.63h2.01v2.01h-2.01zM497.71 236.64h2.01v2.01h-2.01zM503.76 236.64h2.01v2.01h-2.01zM465.49 240.67h2.01v2.01h-2.01zM471.53 246.71h2.01v2.01h-2.01zM477.57 246.71h2.01v2.01h-2.01zM511.81 246.71h2.01v2.01h-2.01zM477.57 248.73h2.01v2.01h-2.01zM499.73 248.73h2.01v2.01h-2.01zM503.76 248.73h2.01v2.01h-2.01zM487.64 250.74h2.01v2.01h-2.01zM507.79 256.79h2.01v2.01h-2.01zM503.76 260.81h2.01v2.01h-2.01zM509.80 260.81h2.01v2.01h-2.01zM485.63 266.86h2.01v2.01h-2.01zM505.77 270.89h2.01v2.01h-2.01zM515.84 270.89h2.01v2.01h-2.01zM527.93 270.89h2.01v2.01h-2.01zM483.61 274.91h2.01v2.01h-2.01zM485.63 276.93h2.01v2.01h-2.01zM471.53 289.01h2.01v2.01h-2.01zM475.56 293.04h2.01v2.01h-2.01z"/><path fill="rgb(208,29,31)" d="M511.81 220.53h2.01v2.01h-2.01zM487.64 224.56h2.01v2.01h-2.01zM475.56 228.59h2.01v2.01h-2.01zM507.79 232.61h2.01v2.01h-2.01zM475.56 234.63h2.01v2.01h-2.01zM487.64 246.71h2.01v2.01h-2.01zM527.93 254.77h2.01v2.01h-2.01zM473.54 256.79h2.01v2.01h-2.01zM523.90 256.79h2.01v2.01h-2.01zM477.57 258.80h2.01v2.01h-2.01zM475.56 260.81h2.01v2.01h-2.01zM481.60 262.83h2.01v2.01h-2.01zM519.87 264.84h2.01v2.01h-2.01zM501.74 266.86h2.01v2.01h-2.01zM511.81 266.86h2.01v2.01h-2.01zM491.67 274.91h2.01v2.01h-2.01zM495.70 274.91h2.01v2.01h-2.01zM487.64 276.93h2.01v2.01h-2.01zM495.70 276.93h2.01v2.01h-2.01zM531.96 276.93h2.01v2.01h-2.01zM477.57 295.06h2.01v2.01h-2.01z"/><path fill="rgb(188,20,26)" d="M517.86 216.50h2.01v2.01h-2.01zM497.71 218.51h2.01v2.01h-2.01zM455.41 230.60h2.01v2.01h-2.01zM503.76 234.63h2.01v2.01h-2.01zM513.83 234.63h2.01v2.01h-2.01zM481.60 240.67h2.01v2.01h-2.01zM479.59 242.69h2.01v2.01h-2.01zM499.73 244.70h2.01v2.01h-2.01zM485.63 248.73h2.01v2.01h-2.01zM475.56 254.77h2.01v2.01h-2.01zM453.40 256.79h2.01v2.01h-2.01zM461.46 256.79h2.01v2.01h-2.01zM517.86 258.80h2.01v2.01h-2.01zM471.53 264.84h4.03v2.01h-4.03zM485.63 264.84h2.01v2.01h-2.01zM533.97 264.84h2.01v2.01h-2.01zM459.44 274.91h2.01v2.01h-2.01zM487.64 274.91h2.01v2.01h-2.01zM507.79 274.91h2.01v2.01h-2.01zM473.54 276.93h2.01v2.01h-2.01zM507.79 276.93h2.01v2.01h-2.01zM499.73 278.94h2.01v2.01h-2.01zM495.70 284.99h2.01v2.01h-2.01zM509.80 287.00h4.03v2.01h-4.03zM515.84 287.00h2.01v2.01h-2.01zM479.59 295.06h2.01v2.01h-2.01z"/><path fill="rgb(168,16,22)" d="M473.54 218.51h2.01v2.01h-2.01zM499.73 218.51h2.01v2.01h-2.01zM475.56 230.60h2.01v2.01h-2.01zM475.56 232.61h2.01v2.01h-2.01zM527.93 232.61h2.01v2.01h-2.01zM501.74 234.63h2.01v2.01h-2.01zM513.83 238.66h4.03v2.01h-4.03zM477.57 242.69h2.01v2.01h-2.01zM507.79 242.69h2.01v2.01h-2.01zM477.57 244.70h2.01v2.01h-2.01zM483.61 248.73h2.01v2.01h-2.01zM491.67 248.73h2.01v2.01h-2.01zM469.51 252.76h2.01v2.01h-2.01zM473.54 252.76h4.03v2.01h-4.03zM481.60 252.76h2.01v2.01h-2.01zM507.79 252.76h2.01v2.01h-2.01zM471.53 254.77h2.01v2.01h-2.01zM505.77 254.77h2.01v2.01h-2.01zM513.83 256.79h2.01v2.01h-2.01zM475.56 258.80h2.01v2.01h-2.01zM479.59 260.81h4.03v2.01h-4.03zM513.83 260.81h2.01v2.01h-2.01zM465.49 264.84h2.01v2.01h-2.01zM477.57 264.84h2.01v2.01h-2.01zM521.89 264.84h2.01v2.01h-2.01zM523.90 266.86h2.01v2.01h-2.01zM505.77 268.87h2.01v2.01h-2.01zM483.61 270.89h4.03v2.01h-4.03zM467.50 272.90h2.01v2.01h-2.01zM483.61 272.90h2.01v2.01h-2.01zM493.69 274.91h2.01v2.01h-2.01zM497.71 274.91h2.01v2.01h-2.01zM481.60 276.93h2.01v2.01h-2.01zM495.70 278.94h2.01v2.01h-2.01zM501.74 278.94h2.01v2.01h-2.01zM495.70 280.96h4.03v2.01h-4.03zM475.56 291.03h2.01v2.01h-2.01zM507.79 291.03h2.01v2.01h-2.01zM513.83 291.03h2.01v2.01h-2.01zM489.66 295.06h2.01v2.01h-2.01z"/><path fill="rgb(136,8,17)" d="M487.64 220.53h2.01v2.01h-2.01zM477.57 230.60h2.01v2.01h-2.01zM475.56 236.64h2.01v2.01h-2.01zM475.56 238.66h2.01v2.01h-2.01zM499.73 238.66h2.01v2.01h-2.01zM519.87 238.66h2.01v2.01h-2.01zM501.74 240.67h2.01v2.01h-2.01zM515.84 240.67h2.01v2.01h-2.01zM491.67 244.70h6.04v2.01h-6.04zM501.74 244.70h2.01v2.01h-2.01zM489.66 246.71h2.01v2.01h-2.01zM489.66 248.73h2.01v2.01h-2.01zM495.70 248.73h2.01v2.01h-2.01zM505.77 248.73h2.01v2.01h-2.01zM517.86 248.73h2.01v2.01h-2.01zM485.63 250.74h2.01v2.01h-2.01zM485.63 252.76h4.03v2.01h-4.03zM485.63 254.77h2.01v2.01h-2.01zM503.76 254.77h2.01v2.01h-2.01zM463.47 256.79h2.01v2.01h-2.01zM479.59 256.79h2.01v2.01h-2.01zM485.63 256.79h2.01v2.01h-2.01zM531.96 256.79h2.01v2.01h-2.01zM473.54 258.80h2.01v2.01h-2.01zM483.61 258.80h2.01v2.01h-2.01zM527.93 258.80h2.01v2.01h-2.01zM459.44 260.81h2.01v2.01h-2.01zM471.53 260.81h2.01v2.01h-2.01zM483.61 260.81h2.01v2.01h-2.01zM479.59 264.84h2.01v2.01h-2.01zM481.60 266.86h2.01v2.01h-2.01zM529.94 266.86h2.01v2.01h-2.01zM501.74 268.87h2.01v2.01h-2.01zM501.74 270.89h2.01v2.01h-2.01zM487.64 272.90h4.03v2.01h-4.03zM479.59 278.94h2.01v2.01h-2.01zM499.73 280.96h2.01v2.01h-2.01zM491.67 282.97h2.01v2.01h-2.01zM481.60 289.01h2.01v2.01h-2.01zM481.60 293.04h2.01v2.01h-2.01zM517.86 293.04h2.01v2.01h-2.01zM533.97 299.09h2.01v2.01h-2.01z"/><path fill="rgb(103,0,13)" d="M497.71 216.50h2.01v2.01h-2.01zM515.84 220.53h2.01v2.01h-2.01zM479.59 230.60h2.01v2.01h-2.01zM477.57 232.61h4.03v2.01h-4.03zM509.80 232.61h4.03v2.01h-4.03zM477.57 234.63h6.04v2.01h-6.04zM507.79 234.63h6.04v2.01h-6.04zM477.57 236.64h6.04v2.01h-6.04zM507.79 236.64h6.04v2.01h-6.04zM477.57 238.66h6.04v2.01h-6.04zM507.79 238.66h6.04v2.01h-6.04zM477.57 240.67h4.03v2.01h-4.03zM507.79 240.67h6.04v2.01h-6.04zM465.49 242.69h2.01v2.01h-2.01zM509.80 242.69h4.03v2.01h-4.03zM523.90 242.69h2.01v2.01h-2.01zM491.67 246.71h2.01v2.01h-2.01zM493.69 248.73h2.01v2.01h-2.01zM507.79 248.73h2.01v2.01h-2.01zM489.66 250.74h10.07v2.01h-10.07zM489.66 252.76h12.09v2.01h-12.09zM519.87 252.76h2.01v2.01h-2.01zM487.64 254.77h16.11v2.01h-16.11zM507.79 254.77h2.01v2.01h-2.01zM487.64 256.79h16.11v2.01h-16.11zM511.81 256.79h2.01v2.01h-2.01zM463.47 258.80h2.01v2.01h-2.01zM471.53 258.80h2.01v2.01h-2.01zM485.63 258.80h18.13v2.01h-18.13zM461.46 260.81h4.03v2.01h-4.03zM485.63 260.81h18.13v2.01h-18.13zM525.91 260.81h4.03v2.01h-4.03zM459.44 262.83h6.04v2.01h-6.04zM483.61 262.83h20.14v2.01h-20.14zM523.90 262.83h6.04v2.01h-6.04zM459.44 264.84h6.04v2.01h-6.04zM487.64 264.84h16.11v2.01h-16.11zM523.90 264.84h8.06v2.01h-8.06zM459.44 266.86h6.04v2.01h-6.04zM467.50 266.86h2.01v2.01h-2.01zM487.64 266.86h14.10v2.01h-14.10zM525.91 266.86h4.03v2.01h-4.03zM461.46 268.87h4.03v2.01h-4.03zM483.61 268.87h2.01v2.01h-2.01zM487.64 268.87h14.10v2.01h-14.10zM525.91 268.87h4.03v2.01h-4.03zM489.66 270.89h12.09v2.01h-12.09zM469.51 272.90h2.01v2.01h-2.01zM491.67 272.90h8.06v2.01h-8.06zM501.74 272.90h2.01v2.01h-2.01zM499.73 276.93h2.01v2.01h-2.01zM503.76 282.97h2.01v2.01h-2.01zM475.56 287.00h6.04v2.01h-6.04zM477.57 289.01h4.03v2.01h-4.03zM509.80 289.01h6.04v2.01h-6.04zM477.57 291.03h6.04v2.01h-6.04zM509.80 291.03h4.03v2.01h-4.03zM477.57 293.04h4.03v2.01h-4.03zM509.80 293.04h4.03v2.01h-4.03zM535.99 295.06h2.01v2.01h-2.01z"/></g></g><rect x="453.40" y="216.5" width="84.6" height="84" fill="none" stroke="#555" stroke-width="0.9"/><rect x="453.40" y="310.4" width="84.6" height="90" fill="rgb(10,0,0)"/><g clip-path="url(#ce4)"><g filter="url(#bl)" shape-rendering="crispEdges"><path fill="rgb(46,0,0)" d="M507.79 322.49h2.01v2.01h-2.01zM507.79 332.56h2.01v2.01h-2.01zM511.81 338.60h2.01v2.01h-2.01zM503.76 350.69h2.01v2.01h-2.01zM525.91 356.73h2.01v2.01h-2.01zM517.86 362.77h2.01v2.01h-2.01zM463.47 370.83h2.01v2.01h-2.01z"/><path fill="rgb(81,0,0)" d="M507.79 320.47h2.01v2.01h-2.01zM529.94 320.47h2.01v2.01h-2.01zM509.80 326.51h2.01v2.01h-2.01zM511.81 330.54h2.01v2.01h-2.01zM509.80 332.56h2.01v2.01h-2.01zM475.56 334.57h2.01v2.01h-2.01zM507.79 336.59h2.01v2.01h-2.01zM499.73 348.67h2.01v2.01h-2.01zM525.91 348.67h2.01v2.01h-2.01zM469.51 356.73h2.01v2.01h-2.01zM519.87 356.73h2.01v2.01h-2.01zM523.90 360.76h2.01v2.01h-2.01zM527.93 360.76h2.01v2.01h-2.01zM515.84 362.77h2.01v2.01h-2.01zM535.99 362.77h2.01v2.01h-2.01zM519.87 364.79h2.01v2.01h-2.01zM471.53 366.80h2.01v2.01h-2.01zM525.91 366.80h2.01v2.01h-2.01zM479.59 372.84h2.01v2.01h-2.01zM511.81 372.84h2.01v2.01h-2.01zM511.81 376.87h2.01v2.01h-2.01zM521.89 376.87h2.01v2.01h-2.01zM473.54 378.89h2.01v2.01h-2.01zM509.80 380.90h4.03v2.01h-4.03zM477.57 382.91h2.01v2.01h-2.01zM481.60 382.91h2.01v2.01h-2.01zM507.79 382.91h2.01v2.01h-2.01zM511.81 386.94h4.03v2.01h-4.03zM509.80 388.96h2.01v2.01h-2.01z"/><path fill="rgb(116,0,0)" d="M479.59 322.49h2.01v2.01h-2.01zM505.77 326.51h2.01v2.01h-2.01zM507.79 328.53h2.01v2.01h-2.01zM467.50 330.54h2.01v2.01h-2.01zM477.57 330.54h2.01v2.01h-2.01zM481.60 330.54h4.03v2.01h-4.03zM475.56 332.56h2.01v2.01h-2.01zM511.81 334.57h2.01v2.01h-2.01zM479.59 336.59h4.03v2.01h-4.03zM525.91 350.69h2.01v2.01h-2.01zM461.46 352.70h2.01v2.01h-2.01zM459.44 356.73h2.01v2.01h-2.01zM489.66 358.74h2.01v2.01h-2.01zM503.76 358.74h2.01v2.01h-2.01zM465.49 360.76h2.01v2.01h-2.01zM525.91 360.76h2.01v2.01h-2.01zM463.47 362.77h2.01v2.01h-2.01zM521.89 362.77h2.01v2.01h-2.01zM521.89 364.79h2.01v2.01h-2.01zM523.90 366.80h2.01v2.01h-2.01zM507.79 372.84h2.01v2.01h-2.01zM477.57 374.86h2.01v2.01h-2.01zM509.80 374.86h2.01v2.01h-2.01zM505.77 378.89h2.01v2.01h-2.01zM521.89 378.89h2.01v2.01h-2.01zM509.80 386.94h2.01v2.01h-2.01zM481.60 388.96h2.01v2.01h-2.01z"/><path fill="rgb(152,0,0)" d="M481.60 326.51h2.01v2.01h-2.01zM509.80 328.53h2.01v2.01h-2.01zM479.59 330.54h2.01v2.01h-2.01zM481.60 332.56h2.01v2.01h-2.01zM509.80 336.59h2.01v2.01h-2.01zM509.80 338.60h2.01v2.01h-2.01zM519.87 344.64h2.01v2.01h-2.01zM499.73 346.66h2.01v2.01h-2.01zM497.71 350.69h2.01v2.01h-2.01zM519.87 354.71h4.03v2.01h-4.03zM509.80 370.83h2.01v2.01h-2.01zM493.69 374.86h2.01v2.01h-2.01zM509.80 376.87h2.01v2.01h-2.01zM479.59 388.96h2.01v2.01h-2.01z"/><path fill="rgb(187,0,0)" d="M509.80 320.47h2.01v2.01h-2.01zM511.81 328.53h2.01v2.01h-2.01zM477.57 332.56h2.01v2.01h-2.01zM483.61 334.57h2.01v2.01h-2.01zM467.50 348.67h4.03v2.01h-4.03zM527.93 358.74h2.01v2.01h-2.01zM463.47 364.79h2.01v2.01h-2.01zM493.69 372.84h2.01v2.01h-2.01zM509.80 372.84h2.01v2.01h-2.01z"/><path fill="rgb(222,0,0)" d="M511.81 312.41h2.01v2.01h-2.01zM481.60 320.47h2.01v2.01h-2.01zM483.61 322.49h2.01v2.01h-2.01zM509.80 322.49h2.01v2.01h-2.01zM479.59 324.50h2.01v2.01h-2.01zM509.80 340.61h2.01v2.01h-2.01zM493.69 344.64h2.01v2.01h-2.01zM523.90 350.69h2.01v2.01h-2.01zM459.44 354.71h2.01v2.01h-2.01zM527.93 356.73h2.01v2.01h-2.01zM521.89 360.76h2.01v2.01h-2.01zM503.76 372.84h4.03v2.01h-4.03zM507.79 378.89h4.03v2.01h-4.03zM475.56 384.93h2.01v2.01h-2.01zM477.57 388.96h2.01v2.01h-2.01zM481.60 390.97h2.01v2.01h-2.01zM477.57 392.99h2.01v2.01h-2.01z"/><path fill="rgb(255,2,0)" d="M507.79 324.50h2.01v2.01h-2.01zM479.59 332.56h2.01v2.01h-2.01zM497.71 340.61h2.01v2.01h-2.01zM459.44 342.63h2.01v2.01h-2.01zM495.70 344.64h2.01v2.01h-2.01zM499.73 344.64h2.01v2.01h-2.01zM497.71 348.67h2.01v2.01h-2.01zM519.87 350.69h2.01v2.01h-2.01z"/><path fill="rgb(255,38,0)" d="M455.41 356.73h2.01v2.01h-2.01zM477.57 372.84h2.01v2.01h-2.01z"/><path fill="rgb(255,73,0)" d="M481.60 318.46h2.01v2.01h-2.01zM507.79 318.46h2.01v2.01h-2.01zM507.79 326.51h2.01v2.01h-2.01zM459.44 346.66h2.01v2.01h-2.01zM457.43 356.73h2.01v2.01h-2.01zM461.46 372.84h4.03v2.01h-4.03zM477.57 380.90h2.01v2.01h-2.01z"/><path fill="rgb(255,108,0)" d="M479.59 328.53h2.01v2.01h-2.01zM463.47 348.67h2.01v2.01h-2.01zM529.94 352.70h2.01v2.01h-2.01zM481.60 380.90h2.01v2.01h-2.01z"/><path fill="rgb(255,143,0)" d="M505.77 344.64h2.01v2.01h-2.01zM469.51 350.69h2.01v2.01h-2.01z"/><path fill="rgb(255,178,0)" d="M481.60 322.49h2.01v2.01h-2.01zM523.90 356.73h2.01v2.01h-2.01zM479.59 382.91h2.01v2.01h-2.01z"/><path fill="rgb(255,214,0)" d="M481.60 328.53h2.01v2.01h-2.01zM459.44 348.67h2.01v2.01h-2.01zM527.93 352.70h2.01v2.01h-2.01zM479.59 380.90h2.01v2.01h-2.01z"/><path fill="rgb(255,249,0)" d="M511.81 336.59h2.01v2.01h-2.01zM463.47 350.69h2.01v2.01h-2.01zM521.89 352.70h2.01v2.01h-2.01zM523.90 358.74h2.01v2.01h-2.01z"/></g></g><rect x="453.40" y="310.4" width="84.6" height="90" fill="none" stroke="#555" stroke-width="0.9"/><rect x="556.85" y="216.5" width="84.6" height="84" fill="rgb(255,245,240)"/><g clip-path="url(#cd5)"><g filter="url(#bl)" shape-rendering="crispEdges"><path fill="rgb(252,182,155)" d="M611.24 246.71h2.01v2.01h-2.01zM623.32 252.76h2.01v2.01h-2.01zM619.29 262.83h2.01v2.01h-2.01zM611.24 276.93h2.01v2.01h-2.01zM623.32 289.01h2.01v2.01h-2.01z"/><path fill="rgb(252,160,130)" d="M568.94 242.69h2.01v2.01h-2.01zM574.98 252.76h2.01v2.01h-2.01zM556.85 262.83h2.01v2.01h-2.01zM560.88 272.90h2.01v2.01h-2.01zM595.12 282.97h2.01v2.01h-2.01zM601.16 293.04h2.01v2.01h-2.01z"/><path fill="rgb(252,138,106)" d="M562.89 228.59h2.01v2.01h-2.01zM593.11 236.64h2.01v2.01h-2.01zM581.02 258.80h2.01v2.01h-2.01zM617.28 264.84h2.01v2.01h-2.01zM603.18 284.99h2.01v2.01h-2.01zM597.14 287.00h4.03v2.01h-4.03zM587.06 295.06h2.01v2.01h-2.01zM609.22 295.06h2.01v2.01h-2.01z"/><path fill="rgb(251,117,85)" d="M597.14 230.60h2.01v2.01h-2.01zM603.18 236.64h2.01v2.01h-2.01zM623.32 250.74h2.01v2.01h-2.01zM572.96 256.79h2.01v2.01h-2.01zM615.26 266.86h2.01v2.01h-2.01zM572.96 282.97h2.01v2.01h-2.01zM595.12 289.01h2.01v2.01h-2.01z"/><path fill="rgb(248,93,66)" d="M572.96 234.63h2.01v2.01h-2.01zM566.92 238.66h2.01v2.01h-2.01zM574.98 244.70h2.01v2.01h-2.01zM576.99 254.77h2.01v2.01h-2.01zM621.31 270.89h2.01v2.01h-2.01zM615.26 274.91h2.01v2.01h-2.01zM611.24 278.94h2.01v2.01h-2.01zM595.12 287.00h2.01v2.01h-2.01zM617.28 291.03h2.01v2.01h-2.01z"/><path fill="rgb(241,68,50)" d="M597.14 238.66h2.01v2.01h-2.01zM609.22 246.71h2.01v2.01h-2.01zM583.04 248.73h2.01v2.01h-2.01zM560.88 252.76h2.01v2.01h-2.01zM572.96 254.77h2.01v2.01h-2.01zM574.98 256.79h2.01v2.01h-2.01zM558.86 260.81h2.01v2.01h-2.01zM581.02 262.83h2.01v2.01h-2.01zM579.01 264.84h2.01v2.01h-2.01zM581.02 266.86h2.01v2.01h-2.01zM568.94 268.87h2.01v2.01h-2.01zM581.02 268.87h4.03v2.01h-4.03zM576.99 278.94h2.01v2.01h-2.01zM613.25 278.94h2.01v2.01h-2.01zM621.31 278.94h2.01v2.01h-2.01zM568.94 280.96h2.01v2.01h-2.01zM607.21 280.96h2.01v2.01h-2.01zM585.05 282.97h2.01v2.01h-2.01zM601.16 282.97h2.01v2.01h-2.01zM587.06 287.00h2.01v2.01h-2.01zM609.22 287.00h2.01v2.01h-2.01zM633.39 287.00h2.01v2.01h-2.01z"/><path fill="rgb(227,47,39)" d="M637.42 218.51h2.01v2.01h-2.01zM579.01 230.60h2.01v2.01h-2.01zM613.25 244.70h2.01v2.01h-2.01zM574.98 246.71h2.01v2.01h-2.01zM597.14 246.71h2.01v2.01h-2.01zM566.92 248.73h2.01v2.01h-2.01zM581.02 248.73h2.01v2.01h-2.01zM613.25 248.73h2.01v2.01h-2.01zM579.01 250.74h2.01v2.01h-2.01zM615.26 250.74h2.01v2.01h-2.01zM623.32 260.81h2.01v2.01h-2.01zM629.36 260.81h2.01v2.01h-2.01zM579.01 262.83h2.01v2.01h-2.01zM572.96 266.86h2.01v2.01h-2.01zM621.31 266.86h2.01v2.01h-2.01zM613.25 268.87h2.01v2.01h-2.01zM613.25 270.89h2.01v2.01h-2.01zM576.99 272.90h2.01v2.01h-2.01zM623.32 272.90h2.01v2.01h-2.01zM629.36 272.90h2.01v2.01h-2.01zM627.35 274.91h2.01v2.01h-2.01zM572.96 280.96h2.01v2.01h-2.01zM605.19 280.96h2.01v2.01h-2.01zM609.22 280.96h2.01v2.01h-2.01zM613.25 287.00h2.01v2.01h-2.01z"/><path fill="rgb(208,29,31)" d="M613.25 228.59h2.01v2.01h-2.01zM591.09 230.60h2.01v2.01h-2.01zM595.12 232.61h2.01v2.01h-2.01zM609.22 232.61h2.01v2.01h-2.01zM597.14 236.64h2.01v2.01h-2.01zM605.19 236.64h2.01v2.01h-2.01zM621.31 236.64h2.01v2.01h-2.01zM597.14 240.67h4.03v2.01h-4.03zM611.24 242.69h2.01v2.01h-2.01zM609.22 248.73h2.01v2.01h-2.01zM623.32 248.73h2.01v2.01h-2.01zM613.25 250.74h2.01v2.01h-2.01zM625.34 250.74h2.01v2.01h-2.01zM568.94 252.76h4.03v2.01h-4.03zM581.02 252.76h2.01v2.01h-2.01zM613.25 254.77h2.01v2.01h-2.01zM619.29 256.79h2.01v2.01h-2.01zM611.24 258.80h2.01v2.01h-2.01zM579.01 260.81h2.01v2.01h-2.01zM562.89 262.83h2.01v2.01h-2.01zM570.95 262.83h2.01v2.01h-2.01zM627.35 264.84h2.01v2.01h-2.01zM619.29 266.86h2.01v2.01h-2.01zM581.02 270.89h2.01v2.01h-2.01zM609.22 270.89h2.01v2.01h-2.01zM617.28 272.90h2.01v2.01h-2.01zM603.18 278.94h2.01v2.01h-2.01zM589.08 291.03h2.01v2.01h-2.01zM613.25 295.06h4.03v2.01h-4.03zM619.29 299.09h2.01v2.01h-2.01z"/><path fill="rgb(188,20,26)" d="M589.08 220.53h2.01v2.01h-2.01zM611.24 230.60h2.01v2.01h-2.01zM617.28 230.60h2.01v2.01h-2.01zM591.09 232.61h2.01v2.01h-2.01zM617.28 232.61h2.01v2.01h-2.01zM601.16 240.67h2.01v2.01h-2.01zM599.15 242.69h2.01v2.01h-2.01zM597.14 244.70h2.01v2.01h-2.01zM627.35 244.70h2.01v2.01h-2.01zM615.26 246.71h2.01v2.01h-2.01zM570.95 248.73h2.01v2.01h-2.01zM619.29 252.76h2.01v2.01h-2.01zM611.24 254.77h2.01v2.01h-2.01zM617.28 254.77h2.01v2.01h-2.01zM609.22 256.79h2.01v2.01h-2.01zM609.22 258.80h2.01v2.01h-2.01zM611.24 260.81h2.01v2.01h-2.01zM583.04 270.89h2.01v2.01h-2.01zM619.29 270.89h2.01v2.01h-2.01zM633.39 270.89h2.01v2.01h-2.01zM585.05 274.91h2.01v2.01h-2.01zM619.29 276.93h4.03v2.01h-4.03zM572.96 278.94h2.01v2.01h-2.01zM587.06 278.94h2.01v2.01h-2.01zM589.08 282.97h2.01v2.01h-2.01zM611.24 287.00h2.01v2.01h-2.01zM585.05 291.03h2.01v2.01h-2.01zM633.39 299.09h2.01v2.01h-2.01z"/><path fill="rgb(168,16,22)" d="M574.98 232.61h2.01v2.01h-2.01zM576.99 234.63h2.01v2.01h-2.01zM627.35 234.63h2.01v2.01h-2.01zM589.08 236.64h2.01v2.01h-2.01zM609.22 238.66h2.01v2.01h-2.01zM574.98 240.67h2.01v2.01h-2.01zM587.06 240.67h8.06v2.01h-8.06zM603.18 240.67h4.03v2.01h-4.03zM609.22 240.67h2.01v2.01h-2.01zM576.99 242.69h2.01v2.01h-2.01zM589.08 242.69h4.03v2.01h-4.03zM603.18 242.69h4.03v2.01h-4.03zM609.22 242.69h2.01v2.01h-2.01zM583.04 244.70h2.01v2.01h-2.01zM587.06 244.70h4.03v2.01h-4.03zM593.11 244.70h2.01v2.01h-2.01zM605.19 244.70h6.04v2.01h-6.04zM585.05 246.71h2.01v2.01h-2.01zM607.21 246.71h2.01v2.01h-2.01zM579.01 248.73h2.01v2.01h-2.01zM611.24 248.73h2.01v2.01h-2.01zM566.92 254.77h2.01v2.01h-2.01zM609.22 254.77h2.01v2.01h-2.01zM583.04 256.79h2.01v2.01h-2.01zM585.05 258.80h2.01v2.01h-2.01zM623.32 258.80h2.01v2.01h-2.01zM576.99 260.81h2.01v2.01h-2.01zM613.25 260.81h2.01v2.01h-2.01zM576.99 262.83h2.01v2.01h-2.01zM583.04 262.83h2.01v2.01h-2.01zM611.24 262.83h2.01v2.01h-2.01zM611.24 264.84h2.01v2.01h-2.01zM570.95 270.89h2.01v2.01h-2.01zM570.95 272.90h2.01v2.01h-2.01zM609.22 272.90h2.01v2.01h-2.01zM619.29 272.90h2.01v2.01h-2.01zM583.04 276.93h2.01v2.01h-2.01zM587.06 276.93h2.01v2.01h-2.01zM613.25 276.93h2.01v2.01h-2.01zM585.05 278.94h2.01v2.01h-2.01zM619.29 278.94h2.01v2.01h-2.01zM581.02 280.96h2.01v2.01h-2.01zM591.09 280.96h2.01v2.01h-2.01zM595.12 280.96h2.01v2.01h-2.01zM601.16 280.96h2.01v2.01h-2.01zM593.11 284.99h2.01v2.01h-2.01zM591.09 289.01h2.01v2.01h-2.01zM601.16 289.01h2.01v2.01h-2.01z"/><path fill="rgb(136,8,17)" d="M605.19 224.56h2.01v2.01h-2.01zM629.36 226.57h2.01v2.01h-2.01zM579.01 232.61h2.01v2.01h-2.01zM576.99 238.66h2.01v2.01h-2.01zM605.19 238.66h2.01v2.01h-2.01zM607.21 240.67h2.01v2.01h-2.01zM574.98 242.69h2.01v2.01h-2.01zM579.01 242.69h2.01v2.01h-2.01zM601.16 242.69h2.01v2.01h-2.01zM607.21 242.69h2.01v2.01h-2.01zM617.28 242.69h2.01v2.01h-2.01zM585.05 244.70h2.01v2.01h-2.01zM591.09 244.70h2.01v2.01h-2.01zM603.18 244.70h2.01v2.01h-2.01zM599.15 246.71h8.06v2.01h-8.06zM601.16 248.73h2.01v2.01h-2.01zM605.19 248.73h4.03v2.01h-4.03zM601.16 250.74h12.09v2.01h-12.09zM605.19 252.76h4.03v2.01h-4.03zM611.24 252.76h2.01v2.01h-2.01zM607.21 254.77h2.01v2.01h-2.01zM564.91 258.80h4.03v2.01h-4.03zM583.04 258.80h2.01v2.01h-2.01zM562.89 260.81h2.01v2.01h-2.01zM609.22 260.81h2.01v2.01h-2.01zM633.39 260.81h2.01v2.01h-2.01zM574.98 262.83h2.01v2.01h-2.01zM613.25 262.83h2.01v2.01h-2.01zM619.29 264.84h2.01v2.01h-2.01zM576.99 266.86h2.01v2.01h-2.01zM583.04 266.86h2.01v2.01h-2.01zM579.01 270.89h2.01v2.01h-2.01zM611.24 270.89h2.01v2.01h-2.01zM572.96 272.90h2.01v2.01h-2.01zM583.04 272.90h2.01v2.01h-2.01zM576.99 274.91h2.01v2.01h-2.01zM613.25 274.91h2.01v2.01h-2.01zM617.28 276.93h2.01v2.01h-2.01zM589.08 278.94h2.01v2.01h-2.01zM605.19 278.94h2.01v2.01h-2.01zM609.22 278.94h2.01v2.01h-2.01zM587.06 280.96h2.01v2.01h-2.01zM593.11 280.96h2.01v2.01h-2.01zM599.15 280.96h2.01v2.01h-2.01zM576.99 282.97h2.01v2.01h-2.01zM581.02 282.97h2.01v2.01h-2.01zM603.18 282.97h2.01v2.01h-2.01zM611.24 282.97h2.01v2.01h-2.01zM605.19 284.99h2.01v2.01h-2.01zM613.25 284.99h2.01v2.01h-2.01zM581.02 287.00h2.01v2.01h-2.01zM593.11 287.00h2.01v2.01h-2.01z"/><path fill="rgb(103,0,13)" d="M583.04 230.60h4.03v2.01h-4.03zM613.25 230.60h4.03v2.01h-4.03zM581.02 232.61h6.04v2.01h-6.04zM611.24 232.61h6.04v2.01h-6.04zM579.01 234.63h10.07v2.01h-10.07zM609.22 234.63h10.07v2.01h-10.07zM579.01 236.64h10.07v2.01h-10.07zM609.22 236.64h10.07v2.01h-10.07zM579.01 238.66h12.09v2.01h-12.09zM611.24 238.66h8.06v2.01h-8.06zM579.01 240.67h8.06v2.01h-8.06zM611.24 240.67h8.06v2.01h-8.06zM581.02 242.69h8.06v2.01h-8.06zM613.25 242.69h4.03v2.01h-4.03zM611.24 244.70h2.01v2.01h-2.01zM615.26 244.70h2.01v2.01h-2.01zM587.06 246.71h8.06v2.01h-8.06zM585.05 248.73h16.11v2.01h-16.11zM603.18 248.73h2.01v2.01h-2.01zM564.91 250.74h2.01v2.01h-2.01zM570.95 250.74h2.01v2.01h-2.01zM576.99 250.74h2.01v2.01h-2.01zM583.04 250.74h18.13v2.01h-18.13zM583.04 252.76h22.16v2.01h-22.16zM609.22 252.76h2.01v2.01h-2.01zM583.04 254.77h24.17v2.01h-24.17zM585.05 256.79h24.17v2.01h-24.17zM611.24 256.79h2.01v2.01h-2.01zM587.06 258.80h22.16v2.01h-22.16zM613.25 258.80h2.01v2.01h-2.01zM564.91 260.81h4.03v2.01h-4.03zM585.05 260.81h24.17v2.01h-24.17zM621.31 260.81h2.01v2.01h-2.01zM631.38 260.81h2.01v2.01h-2.01zM564.91 262.83h4.03v2.01h-4.03zM585.05 262.83h26.19v2.01h-26.19zM629.36 262.83h6.04v2.01h-6.04zM564.91 264.84h4.03v2.01h-4.03zM583.04 264.84h28.20v2.01h-28.20zM613.25 264.84h2.01v2.01h-2.01zM623.32 264.84h2.01v2.01h-2.01zM629.36 264.84h6.04v2.01h-6.04zM566.92 266.86h2.01v2.01h-2.01zM585.05 266.86h26.19v2.01h-26.19zM629.36 266.86h6.04v2.01h-6.04zM585.05 268.87h28.20v2.01h-28.20zM629.36 268.87h6.04v2.01h-6.04zM585.05 270.89h24.17v2.01h-24.17zM629.36 270.89h4.03v2.01h-4.03zM585.05 272.90h24.17v2.01h-24.17zM631.38 272.90h4.03v2.01h-4.03zM572.96 274.91h2.01v2.01h-2.01zM583.04 274.91h2.01v2.01h-2.01zM587.06 274.91h22.16v2.01h-22.16zM589.08 276.93h18.13v2.01h-18.13zM591.09 278.94h12.09v2.01h-12.09zM585.05 280.96h2.01v2.01h-2.01zM597.14 280.96h2.01v2.01h-2.01zM603.18 280.96h2.01v2.01h-2.01zM589.08 284.99h2.01v2.01h-2.01zM595.12 284.99h2.01v2.01h-2.01zM589.08 287.00h2.01v2.01h-2.01zM581.02 289.01h4.03v2.01h-4.03zM613.25 289.01h4.03v2.01h-4.03zM581.02 291.03h4.03v2.01h-4.03zM613.25 291.03h4.03v2.01h-4.03zM581.02 293.04h4.03v2.01h-4.03zM613.25 293.04h4.03v2.01h-4.03z"/></g></g><rect x="556.85" y="216.5" width="84.6" height="84" fill="none" stroke="#555" stroke-width="0.9"/><rect x="556.85" y="310.4" width="84.6" height="90" fill="rgb(10,0,0)"/><g clip-path="url(#ce5)"><g filter="url(#bl)" shape-rendering="crispEdges"><path fill="rgb(46,0,0)" d="M609.22 320.47h2.01v2.01h-2.01zM581.02 326.51h2.01v2.01h-2.01zM619.29 326.51h2.01v2.01h-2.01zM619.29 328.53h2.01v2.01h-2.01zM633.39 332.56h2.01v2.01h-2.01zM627.35 334.57h2.01v2.01h-2.01zM583.04 340.61h2.01v2.01h-2.01zM587.06 342.63h2.01v2.01h-2.01zM568.94 348.67h2.01v2.01h-2.01zM621.31 362.77h2.01v2.01h-2.01zM631.38 362.77h2.01v2.01h-2.01zM562.89 364.79h2.01v2.01h-2.01zM583.04 370.83h2.01v2.01h-2.01zM621.31 374.86h2.01v2.01h-2.01zM585.05 376.87h2.01v2.01h-2.01zM619.29 386.94h2.01v2.01h-2.01z"/><path fill="rgb(81,0,0)" d="M617.28 324.50h2.01v2.01h-2.01zM617.28 326.51h2.01v2.01h-2.01zM589.08 330.54h2.01v2.01h-2.01zM591.09 336.59h2.01v2.01h-2.01zM601.16 338.60h4.03v2.01h-4.03zM585.05 340.61h2.01v2.01h-2.01zM593.11 340.61h2.01v2.01h-2.01zM607.21 340.61h2.01v2.01h-2.01zM629.36 352.70h4.03v2.01h-4.03zM637.42 352.70h2.01v2.01h-2.01zM627.35 354.71h4.03v2.01h-4.03zM631.38 358.74h2.01v2.01h-2.01zM621.31 360.76h2.01v2.01h-2.01zM635.41 362.77h2.01v2.01h-2.01zM593.11 364.79h4.03v2.01h-4.03zM583.04 372.84h2.01v2.01h-2.01zM619.29 374.86h2.01v2.01h-2.01zM583.04 376.87h2.01v2.01h-2.01zM581.02 378.89h2.01v2.01h-2.01zM609.22 384.93h2.01v2.01h-2.01zM615.26 384.93h2.01v2.01h-2.01zM611.24 388.96h2.01v2.01h-2.01zM611.24 390.97h2.01v2.01h-2.01z"/><path fill="rgb(116,0,0)" d="M587.06 310.40h2.01v2.01h-2.01zM607.21 318.46h2.01v2.01h-2.01zM615.26 324.50h2.01v2.01h-2.01zM589.08 326.51h2.01v2.01h-2.01zM617.28 332.56h2.01v2.01h-2.01zM593.11 342.63h2.01v2.01h-2.01zM560.88 350.69h2.01v2.01h-2.01zM619.29 356.73h4.03v2.01h-4.03zM633.39 362.77h2.01v2.01h-2.01zM615.26 364.79h2.01v2.01h-2.01zM572.96 370.83h4.03v2.01h-4.03zM629.36 370.83h2.01v2.01h-2.01zM629.36 372.84h2.01v2.01h-2.01zM585.05 374.86h2.01v2.01h-2.01zM611.24 382.91h2.01v2.01h-2.01zM609.22 390.97h2.01v2.01h-2.01z"/><path fill="rgb(152,0,0)" d="M609.22 328.53h4.03v2.01h-4.03zM613.25 332.56h2.01v2.01h-2.01zM611.24 334.57h2.01v2.01h-2.01zM613.25 336.59h2.01v2.01h-2.01zM613.25 342.63h2.01v2.01h-2.01zM615.26 344.64h2.01v2.01h-2.01zM560.88 360.76h2.01v2.01h-2.01zM633.39 360.76h2.01v2.01h-2.01zM615.26 362.77h2.01v2.01h-2.01zM615.26 366.80h2.01v2.01h-2.01zM579.01 372.84h4.03v2.01h-4.03zM615.26 374.86h2.01v2.01h-2.01zM579.01 376.87h4.03v2.01h-4.03z"/><path fill="rgb(187,0,0)" d="M637.42 314.43h2.01v2.01h-2.01zM611.24 322.49h2.01v2.01h-2.01zM615.26 326.51h2.01v2.01h-2.01zM579.01 328.53h2.01v2.01h-2.01zM585.05 332.56h2.01v2.01h-2.01zM607.21 332.56h2.01v2.01h-2.01zM611.24 332.56h2.01v2.01h-2.01zM585.05 334.57h2.01v2.01h-2.01zM591.09 340.61h2.01v2.01h-2.01zM613.25 344.64h2.01v2.01h-2.01zM566.92 346.66h2.01v2.01h-2.01zM566.92 348.67h2.01v2.01h-2.01zM627.35 350.69h2.01v2.01h-2.01zM562.89 352.70h2.01v2.01h-2.01zM562.89 356.73h2.01v2.01h-2.01zM629.36 358.74h2.01v2.01h-2.01zM562.89 360.76h2.01v2.01h-2.01zM627.35 360.76h2.01v2.01h-2.01zM621.31 364.79h2.01v2.01h-2.01zM613.25 378.89h2.01v2.01h-2.01zM617.28 378.89h2.01v2.01h-2.01zM613.25 382.91h2.01v2.01h-2.01z"/><path fill="rgb(222,0,0)" d="M639.44 314.43h2.01v2.01h-2.01zM617.28 320.47h2.01v2.01h-2.01zM579.01 324.50h2.01v2.01h-2.01zM583.04 326.51h2.01v2.01h-2.01zM613.25 326.51h2.01v2.01h-2.01zM579.01 330.54h2.01v2.01h-2.01zM581.02 332.56h2.01v2.01h-2.01zM609.22 332.56h2.01v2.01h-2.01zM579.01 334.57h2.01v2.01h-2.01zM615.26 334.57h2.01v2.01h-2.01zM625.34 334.57h2.01v2.01h-2.01zM611.24 336.59h2.01v2.01h-2.01zM568.94 338.60h2.01v2.01h-2.01zM591.09 338.60h2.01v2.01h-2.01zM599.15 338.60h2.01v2.01h-2.01zM587.06 340.61h2.01v2.01h-2.01zM564.91 344.64h2.01v2.01h-2.01zM564.91 352.70h2.01v2.01h-2.01zM581.02 352.70h2.01v2.01h-2.01zM623.32 354.71h2.01v2.01h-2.01zM568.94 356.73h2.01v2.01h-2.01zM631.38 356.73h2.01v2.01h-2.01zM635.41 360.76h2.01v2.01h-2.01zM627.35 362.77h2.01v2.01h-2.01zM631.38 364.79h2.01v2.01h-2.01zM556.85 366.80h2.01v2.01h-2.01zM631.38 368.81h2.01v2.01h-2.01zM581.02 374.86h2.01v2.01h-2.01zM617.28 380.90h2.01v2.01h-2.01zM615.26 382.91h2.01v2.01h-2.01zM560.88 384.93h2.01v2.01h-2.01zM613.25 386.94h2.01v2.01h-2.01z"/><path fill="rgb(255,2,0)" d="M583.04 328.53h4.03v2.01h-4.03zM583.04 332.56h2.01v2.01h-2.01zM615.26 332.56h2.01v2.01h-2.01zM613.25 334.57h2.01v2.01h-2.01zM593.11 336.59h2.01v2.01h-2.01zM605.19 340.61h2.01v2.01h-2.01zM564.91 346.66h2.01v2.01h-2.01zM635.41 348.67h2.01v2.01h-2.01zM585.05 362.77h2.01v2.01h-2.01z"/><path fill="rgb(255,38,0)" d="M609.22 342.63h2.01v2.01h-2.01zM633.39 348.67h2.01v2.01h-2.01zM562.89 350.69h2.01v2.01h-2.01zM585.05 360.76h2.01v2.01h-2.01zM556.85 368.81h2.01v2.01h-2.01zM579.01 368.81h2.01v2.01h-2.01zM615.26 370.83h2.01v2.01h-2.01z"/><path fill="rgb(255,73,0)" d="M613.25 320.47h2.01v2.01h-2.01zM581.02 330.54h2.01v2.01h-2.01zM576.99 334.57h2.01v2.01h-2.01zM597.14 338.60h2.01v2.01h-2.01zM564.91 366.80h2.01v2.01h-2.01zM611.24 374.86h2.01v2.01h-2.01zM617.28 386.94h2.01v2.01h-2.01zM611.24 392.99h2.01v2.01h-2.01z"/><path fill="rgb(255,108,0)" d="M585.05 310.40h2.01v2.01h-2.01zM611.24 320.47h2.01v2.01h-2.01zM583.04 330.54h2.01v2.01h-2.01zM581.02 334.57h2.01v2.01h-2.01zM627.35 348.67h2.01v2.01h-2.01zM613.25 388.96h2.01v2.01h-2.01z"/><path fill="rgb(255,143,0)" d="M583.04 312.41h2.01v2.01h-2.01zM613.25 322.49h2.01v2.01h-2.01zM593.11 338.60h2.01v2.01h-2.01zM627.35 352.70h2.01v2.01h-2.01zM619.29 354.71h2.01v2.01h-2.01z"/><path fill="rgb(255,178,0)" d="M583.04 334.57h2.01v2.01h-2.01zM583.04 338.60h2.01v2.01h-2.01zM562.89 346.66h2.01v2.01h-2.01zM562.89 348.67h2.01v2.01h-2.01zM572.96 360.76h2.01v2.01h-2.01zM629.36 362.77h2.01v2.01h-2.01zM583.04 378.89h2.01v2.01h-2.01z"/><path fill="rgb(255,214,0)" d="M611.24 318.46h2.01v2.01h-2.01zM581.02 336.59h2.01v2.01h-2.01zM629.36 364.79h2.01v2.01h-2.01zM562.89 366.80h2.01v2.01h-2.01zM556.85 370.83h2.01v2.01h-2.01zM568.94 380.90h2.01v2.01h-2.01z"/><path fill="rgb(255,249,0)" d="M585.05 330.54h2.01v2.01h-2.01zM583.04 374.86h2.01v2.01h-2.01z"/></g></g><rect x="556.85" y="310.4" width="84.6" height="90" fill="none" stroke="#555" stroke-width="0.9"/><g transform="translate(66.4,210.8) scale(0.7,0.74)" fill="none" stroke="#111" stroke-linecap="round"><path d="M0.3,-1.2 Q1.1,-0.1 2.3,-1.0" stroke-width="1.1"/><path d="M2.3,-1.0 L7.4,-9.1" stroke-width="0.85"/><path d="M7.4,-9.1 L8.5,-1.2 Q8.7,-0.4 9.1,-0.5" stroke-width="1.35"/><path d="M3.9,-3.4 Q5.6,-4.9 7.9,-4.3" stroke-width="0.7"/></g><text x="75.5" y="210.3" font-size="9.0" text-anchor="start" font-weight="normal" fill="#000" stroke="#000" stroke-width="0.15" >=0.14</text><g transform="translate(169.85,210.8) scale(0.7,0.74)" fill="none" stroke="#111" stroke-linecap="round"><path d="M0.3,-1.2 Q1.1,-0.1 2.3,-1.0" stroke-width="1.1"/><path d="M2.3,-1.0 L7.4,-9.1" stroke-width="0.85"/><path d="M7.4,-9.1 L8.5,-1.2 Q8.7,-0.4 9.1,-0.5" stroke-width="1.35"/><path d="M3.9,-3.4 Q5.6,-4.9 7.9,-4.3" stroke-width="0.7"/></g><text x="178.95" y="210.3" font-size="9.0" text-anchor="start" font-weight="normal" fill="#000" stroke="#000" stroke-width="0.15" >=0.18</text><g transform="translate(273.3,210.8) scale(0.7,0.74)" fill="none" stroke="#111" stroke-linecap="round"><path d="M0.3,-1.2 Q1.1,-0.1 2.3,-1.0" stroke-width="1.1"/><path d="M2.3,-1.0 L7.4,-9.1" stroke-width="0.85"/><path d="M7.4,-9.1 L8.5,-1.2 Q8.7,-0.4 9.1,-0.5" stroke-width="1.35"/><path d="M3.9,-3.4 Q5.6,-4.9 7.9,-4.3" stroke-width="0.7"/></g><text x="282.4" y="210.3" font-size="9.0" text-anchor="start" font-weight="normal" fill="#000" stroke="#000" stroke-width="0.15" >=0.22</text><g transform="translate(376.75,210.8) scale(0.7,0.74)" fill="none" stroke="#111" stroke-linecap="round"><path d="M0.3,-1.2 Q1.1,-0.1 2.3,-1.0" stroke-width="1.1"/><path d="M2.3,-1.0 L7.4,-9.1" stroke-width="0.85"/><path d="M7.4,-9.1 L8.5,-1.2 Q8.7,-0.4 9.1,-0.5" stroke-width="1.35"/><path d="M3.9,-3.4 Q5.6,-4.9 7.9,-4.3" stroke-width="0.7"/></g><text x="385.85" y="210.3" font-size="9.0" text-anchor="start" font-weight="normal" fill="#000" stroke="#000" stroke-width="0.15" >=0.24</text><g transform="translate(480.2,210.8) scale(0.7,0.74)" fill="none" stroke="#111" stroke-linecap="round"><path d="M0.3,-1.2 Q1.1,-0.1 2.3,-1.0" stroke-width="1.1"/><path d="M2.3,-1.0 L7.4,-9.1" stroke-width="0.85"/><path d="M7.4,-9.1 L8.5,-1.2 Q8.7,-0.4 9.1,-0.5" stroke-width="1.35"/><path d="M3.9,-3.4 Q5.6,-4.9 7.9,-4.3" stroke-width="0.7"/></g><text x="489.3" y="210.3" font-size="9.0" text-anchor="start" font-weight="normal" fill="#000" stroke="#000" stroke-width="0.15" >=0.27</text><g transform="translate(583.65,210.8) scale(0.7,0.74)" fill="none" stroke="#111" stroke-linecap="round"><path d="M0.3,-1.2 Q1.1,-0.1 2.3,-1.0" stroke-width="1.1"/><path d="M2.3,-1.0 L7.4,-9.1" stroke-width="0.85"/><path d="M7.4,-9.1 L8.5,-1.2 Q8.7,-0.4 9.1,-0.5" stroke-width="1.35"/><path d="M3.9,-3.4 Q5.6,-4.9 7.9,-4.3" stroke-width="0.7"/></g><text x="592.75" y="210.3" font-size="9.0" text-anchor="start" font-weight="normal" fill="#000" stroke="#000" stroke-width="0.15" >=0.33</text><text x="0.3" y="210.5" font-size="12.6" text-anchor="start" font-weight="bold" fill="#000" stroke="#000" stroke-width="0.1" >d</text><text x="0.5" y="304.6" font-size="13.0" text-anchor="start" font-weight="bold" fill="#000" stroke="#000" stroke-width="0.1" >e</text><defs><linearGradient id="reds" x1="0" y1="1" x2="0" y2="0"><stop offset="0" stop-color="#fff5f0"/><stop offset="0.25" stop-color="#fcbba1"/><stop offset="0.5" stop-color="#fb6a4a"/><stop offset="0.75" stop-color="#cb181d"/><stop offset="1" stop-color="#67000d"/></linearGradient><linearGradient id="hot" x1="0" y1="1" x2="0" y2="0"><stop offset="0" stop-color="#0b0000"/><stop offset="0.365" stop-color="#ff0000"/><stop offset="0.746" stop-color="#ffff00"/><stop offset="1" stop-color="#ffffff"/></linearGradient></defs><rect x="657.9" y="237.2" width="7.9" height="34.3" fill="url(#reds)" stroke="#444" stroke-width="0.7"/><path d="M665.8,268.07h-1.3M665.8,264.64h-1.3M665.8,261.21h-1.3M665.8,257.78h-1.3M665.8,254.35h-2.2M665.8,250.92h-1.3M665.8,247.49h-1.3M665.8,244.06h-1.3M665.8,240.63h-1.3" stroke="#222" stroke-width="0.7"/><text x="669.8" y="239.8" font-size="7.3" text-anchor="start" font-weight="normal" fill="#000" stroke="#000" stroke-width="0.22" >1.00</text><text x="669.8" y="256.95" font-size="7.3" text-anchor="start" font-weight="normal" fill="#000" stroke="#000" stroke-width="0.22" >0.75</text><text x="669.8" y="274.1" font-size="7.3" text-anchor="start" font-weight="normal" fill="#000" stroke="#000" stroke-width="0.22" >0.50</text><rect x="657.9" y="334.4" width="7.9" height="34.7" fill="url(#hot)" stroke="#444" stroke-width="0.7"/><path d="M665.8,365.63h-1.3M665.8,362.16h-1.3M665.8,358.69h-1.3M665.8,355.22h-1.3M665.8,351.75h-2.2M665.8,348.28h-1.3M665.8,344.81h-1.3M665.8,341.34h-1.3M665.8,337.87h-1.3" stroke="#222" stroke-width="0.7"/><text x="669.8" y="337" font-size="7.3" text-anchor="start" font-weight="normal" fill="#000" stroke="#000" stroke-width="0.22" >1.00</text><text x="669.8" y="354.35" font-size="7.3" text-anchor="start" font-weight="normal" fill="#000" stroke="#000" stroke-width="0.22" >0.75</text><text x="669.8" y="371.7" font-size="7.3" text-anchor="start" font-weight="normal" fill="#000" stroke="#000" stroke-width="0.22" >0.50</text>
</svg></body></html>
